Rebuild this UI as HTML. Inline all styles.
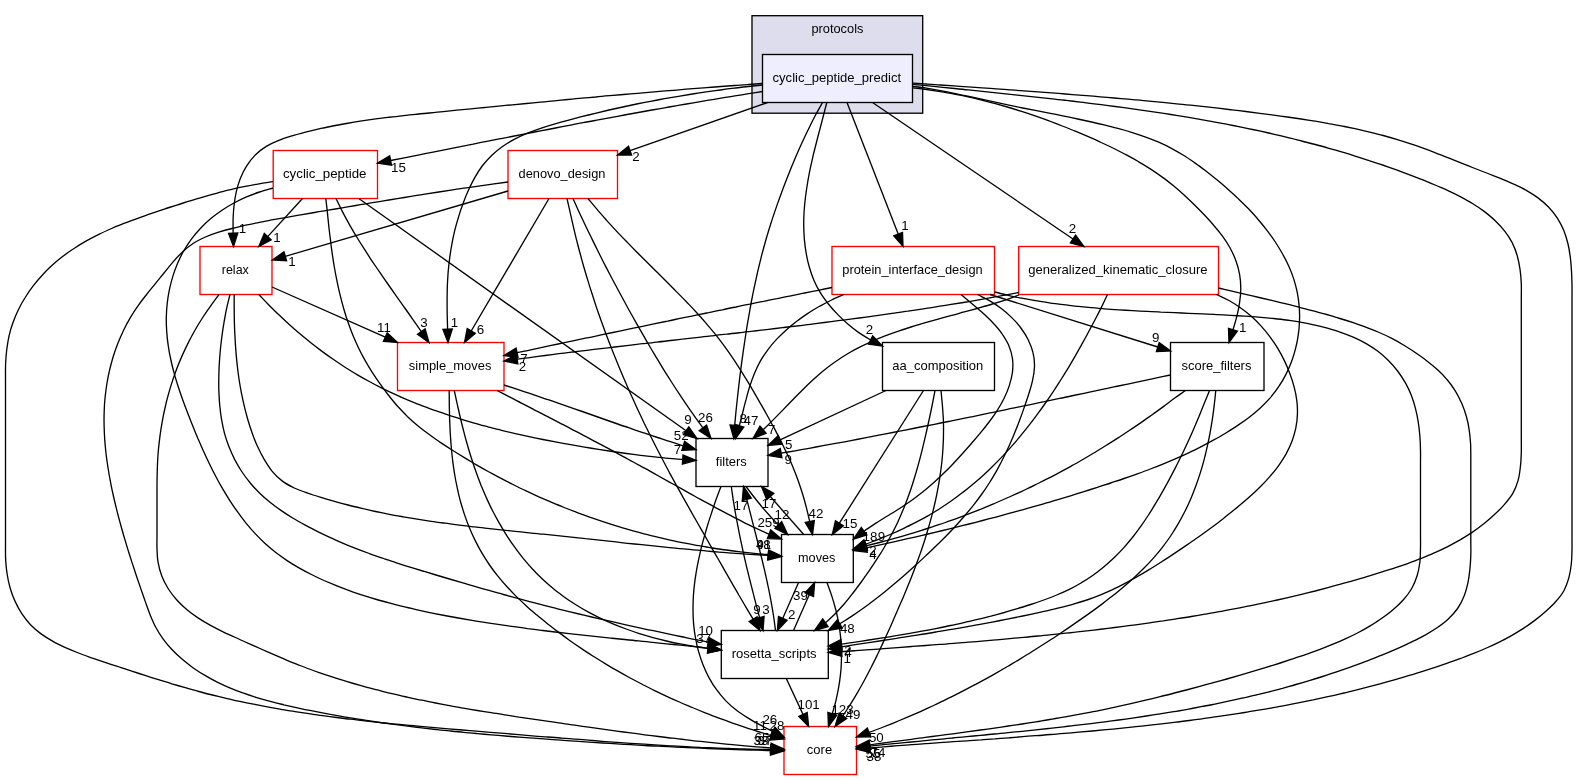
<!DOCTYPE html>
<html><head><meta charset="utf-8"><title>protocols/cyclic_peptide_predict</title>
<style>html,body{margin:0;padding:0;background:#fff}svg{display:block;will-change:transform}text{font-family:"Liberation Sans",Arial,Helvetica,sans-serif;font-size:13.33px;fill:#000;text-anchor:middle}.e{fill:none;stroke:#000;stroke-width:1.33}.a{fill:#000;stroke:#000;stroke-width:1.33}.n{stroke-width:1.33}</style></head><body>
<svg width="1577" height="780" viewBox="0 0 1577 780">
<rect width="1577" height="780" fill="#fff"/>
<rect class="n" x="752.0" y="15.7" width="170.7" height="97.5" fill="#ddddee" stroke="#000"/>
<text x="837.4" y="33.3" textLength="52" lengthAdjust="spacingAndGlyphs">protocols</text>
<rect class="n" x="762.5" y="54.5" width="150.0" height="48.0" fill="#eeeeff" stroke="#000000"/>
<text x="836.8" y="81.5" textLength="128.5" lengthAdjust="spacingAndGlyphs">cyclic_peptide_predict</text>
<rect class="n" x="273.2" y="150.5" width="104.3" height="48.0" fill="#ffffff" stroke="#ff0000"/>
<text x="324.7" y="177.5" textLength="83.5" lengthAdjust="spacingAndGlyphs">cyclic_peptide</text>
<rect class="n" x="508.0" y="150.5" width="109.5" height="48.0" fill="#ffffff" stroke="#ff0000"/>
<text x="562.0" y="177.5" textLength="86.8" lengthAdjust="spacingAndGlyphs">denovo_design</text>
<rect class="n" x="200.0" y="246.5" width="72.0" height="48.0" fill="#ffffff" stroke="#ff0000"/>
<text x="235.3" y="273.5" textLength="27.0" lengthAdjust="spacingAndGlyphs">relax</text>
<rect class="n" x="832.0" y="246.5" width="162.5" height="48.0" fill="#ffffff" stroke="#ff0000"/>
<text x="912.5" y="273.5" textLength="140.5" lengthAdjust="spacingAndGlyphs">protein_interface_design</text>
<rect class="n" x="1018.7" y="246.5" width="199.8" height="48.0" fill="#ffffff" stroke="#ff0000"/>
<text x="1117.9" y="273.5" textLength="179.5" lengthAdjust="spacingAndGlyphs">generalized_kinematic_closure</text>
<rect class="n" x="397.5" y="342.5" width="106.5" height="48.0" fill="#ffffff" stroke="#ff0000"/>
<text x="450.1" y="369.5" textLength="82.5" lengthAdjust="spacingAndGlyphs">simple_moves</text>
<rect class="n" x="882.5" y="342.5" width="112.0" height="48.0" fill="#ffffff" stroke="#000000"/>
<text x="937.8" y="369.5" textLength="91.0" lengthAdjust="spacingAndGlyphs">aa_composition</text>
<rect class="n" x="1170.5" y="342.5" width="93.5" height="48.0" fill="#ffffff" stroke="#000000"/>
<text x="1216.5" y="369.5" textLength="69.8" lengthAdjust="spacingAndGlyphs">score_filters</text>
<rect class="n" x="696.0" y="438.5" width="72.0" height="48.0" fill="#ffffff" stroke="#000000"/>
<text x="731.3" y="465.5" textLength="31.0" lengthAdjust="spacingAndGlyphs">filters</text>
<rect class="n" x="781.5" y="534.5" width="71.8" height="48.0" fill="#ffffff" stroke="#000000"/>
<text x="816.7" y="561.5" textLength="37.4" lengthAdjust="spacingAndGlyphs">moves</text>
<rect class="n" x="721.3" y="630.5" width="107.0" height="48.0" fill="#ffffff" stroke="#000000"/>
<text x="774.1" y="657.5" textLength="84.9" lengthAdjust="spacingAndGlyphs">rosetta_scripts</text>
<rect class="n" x="784.0" y="726.5" width="72.5" height="48.0" fill="#ffffff" stroke="#ff0000"/>
<text x="819.5" y="753.5" textLength="25.3" lengthAdjust="spacingAndGlyphs">core</text>
<path class="e" d="M762.5,91.5C757.9,92.2 753.3,93.0 748.7,93.7C744.1,94.4 739.4,95.2 734.8,95.9C730.2,96.6 725.6,97.4 721.0,98.2C716.4,98.9 711.8,99.7 707.2,100.4C702.6,101.2 698.0,102.0 693.4,102.8C688.8,103.6 684.2,104.4 679.6,105.2C675.0,105.9 670.4,106.8 665.8,107.6C661.2,108.4 656.6,109.2 652.0,110.0C647.4,110.8 642.8,111.7 638.2,112.5C633.6,113.3 629.0,114.2 624.4,115.0C619.8,115.9 615.2,116.7 610.6,117.6C606.0,118.4 601.4,119.3 596.8,120.1C592.2,121.0 587.7,121.9 583.1,122.7C578.5,123.6 573.9,124.5 569.3,125.3C564.7,126.2 560.1,127.1 555.5,128.0C551.0,128.9 546.4,129.8 541.8,130.6C537.2,131.5 532.6,132.4 528.0,133.3C523.5,134.2 518.9,135.1 514.3,136.0C509.7,136.9 505.1,137.8 500.5,138.7C496.0,139.6 491.4,140.5 486.8,141.4C482.2,142.3 477.6,143.2 473.1,144.2C468.5,145.1 463.9,146.0 459.3,146.9C454.7,147.8 450.1,148.7 445.6,149.6C441.0,150.5 436.4,151.4 431.8,152.3C427.2,153.2 422.7,154.2 418.1,155.1C413.5,156.0 408.9,156.9 404.3,157.8C399.8,158.7 395.2,159.6 390.6,160.5"/><polygon class="a" points="389.7,155.9 377.5,163.0 391.5,165.1"/>
<path class="e" d="M767.5,102.5L630.1,150.6"/><polygon class="a" points="628.5,146.2 617.5,155.0 631.6,155.0"/>
<path class="e" d="M762.5,83.5C757.9,83.8 753.2,84.2 748.6,84.5C744.0,84.8 739.3,85.1 734.7,85.5C730.1,85.8 725.4,86.2 720.8,86.5C716.2,86.8 711.5,87.2 706.9,87.6C702.3,87.9 697.6,88.3 693.0,88.6C688.4,89.0 683.7,89.4 679.1,89.8C674.5,90.1 669.8,90.5 665.2,90.9C660.6,91.3 656.0,91.7 651.3,92.1C646.7,92.5 642.1,92.9 637.4,93.3C632.8,93.7 628.2,94.1 623.6,94.5C618.9,94.9 614.3,95.3 609.7,95.7C605.0,96.1 600.4,96.5 595.8,97.0C591.2,97.4 586.5,97.8 581.9,98.2C577.3,98.7 572.7,99.1 568.0,99.5C563.4,99.9 558.8,100.4 554.2,100.8C549.5,101.3 544.9,101.7 540.3,102.1C535.7,102.6 531.0,103.0 526.4,103.5C521.8,103.9 517.2,104.4 512.5,104.8C507.9,105.2 503.3,105.7 498.7,106.1C494.0,106.6 489.4,107.0 484.8,107.5C480.2,108.0 475.5,108.4 470.9,108.9C466.3,109.3 461.7,109.8 457.0,110.2C452.4,110.7 447.8,111.1 443.2,111.6C438.5,112.0 433.9,112.5 429.3,113.0C424.7,113.4 420.1,113.9 415.4,114.4C410.8,114.8 406.2,115.3 401.6,115.8C397.0,116.4 392.3,116.9 387.7,117.4C383.1,118.0 378.5,118.6 373.9,119.2C369.3,119.9 364.7,120.5 360.1,121.2C355.5,121.9 350.9,122.7 346.4,123.5C341.8,124.3 337.2,125.1 332.7,126.0C328.1,126.9 323.6,127.9 319.0,128.9C314.5,130.0 310.0,131.1 305.5,132.2C301.0,133.4 296.5,134.6 292.0,135.9C287.6,137.3 283.1,138.6 278.8,140.4C274.5,142.1 270.2,144.0 266.3,146.4C262.4,148.8 258.6,151.7 255.3,154.9C252.1,158.2 249.2,162.0 246.7,165.9C244.2,169.7 242.2,174.0 240.4,178.3C238.7,182.6 237.4,187.1 236.3,191.6C235.3,196.1 234.6,200.7 234.1,205.3C233.5,209.9 233.3,214.6 233.1,219.2C233.0,223.9 233.1,228.5 233.1,233.2"/><polygon class="a" points="228.5,233.3 233.5,246.5 237.8,233.0"/>
<path class="e" d="M762.5,85.0C757.8,85.5 753.1,86.0 748.4,86.5C743.7,87.0 739.1,87.6 734.4,88.2C729.7,88.7 725.0,89.3 720.4,90.0C715.7,90.6 711.0,91.3 706.3,91.9C701.7,92.6 697.0,93.3 692.4,94.0C687.7,94.8 683.0,95.5 678.4,96.3C673.7,97.1 669.1,97.9 664.5,98.7C659.8,99.6 655.2,100.4 650.5,101.3C645.9,102.2 641.3,103.1 636.7,104.0C632.0,105.0 627.4,106.0 622.8,107.0C618.2,108.0 613.6,109.0 609.0,110.0C604.4,111.1 599.8,112.2 595.3,113.3C590.7,114.4 586.1,115.6 581.5,116.7C577.0,117.9 572.4,119.1 567.8,120.3C563.3,121.6 558.7,122.8 554.2,124.1C549.7,125.4 545.2,126.8 540.7,128.3C536.2,129.8 531.8,131.4 527.4,133.2C523.1,135.0 518.8,137.0 514.6,139.2C510.5,141.4 506.4,143.8 502.5,146.5C498.7,149.2 495.0,152.2 491.6,155.4C488.2,158.7 485.1,162.3 482.2,166.0C479.4,169.8 476.9,173.8 474.6,177.9C472.3,182.0 470.2,186.3 468.3,190.6C466.3,194.9 464.6,199.3 463.0,203.7C461.3,208.1 459.8,212.6 458.5,217.1C457.1,221.6 455.8,226.2 454.7,230.7C453.6,235.3 452.6,239.9 451.8,244.6C450.9,249.2 450.2,253.9 449.6,258.6C449.0,263.2 448.5,267.9 448.1,272.6C447.8,277.3 447.5,282.0 447.3,286.7C447.2,291.5 447.1,296.2 447.1,300.9C447.1,305.6 447.1,310.3 447.2,315.0C447.3,319.7 447.5,324.5 447.6,329.2"/><polygon class="a" points="442.9,329.3 448.0,342.5 452.3,329.0"/>
<path class="e" d="M822.5,102.5C820.2,106.6 817.9,110.6 815.7,114.8C813.5,118.9 811.4,123.1 809.4,127.3C807.3,131.5 805.3,135.7 803.3,140.0C801.3,144.2 799.4,148.5 797.5,152.8C795.7,157.1 793.8,161.4 792.0,165.7C790.3,170.0 788.5,174.4 786.8,178.7C785.1,183.1 783.4,187.5 781.8,191.9C780.2,196.3 778.6,200.7 777.0,205.1C775.5,209.5 774.0,213.9 772.5,218.4C771.1,222.8 769.6,227.3 768.3,231.8C766.9,236.3 765.6,240.7 764.4,245.3C763.1,249.8 761.9,254.3 760.8,258.8C759.6,263.4 758.6,267.9 757.5,272.5C756.5,277.1 755.5,281.6 754.5,286.2C753.5,290.8 752.6,295.4 751.7,300.0C750.8,304.6 750.0,309.2 749.2,313.8C748.4,318.4 747.6,323.0 746.8,327.6C746.1,332.3 745.4,336.9 744.7,341.5C744.0,346.2 743.3,350.8 742.7,355.4C742.0,360.1 741.4,364.7 740.8,369.4C740.2,374.0 739.6,378.6 739.1,383.3C738.5,387.9 738.0,392.6 737.5,397.3C737.0,401.9 736.5,406.6 736.0,411.2C735.6,415.9 735.1,420.5 734.7,425.2"/><polygon class="a" points="730.0,424.9 733.8,438.5 739.3,425.5"/>
<path class="e" d="M826.8,102.5C825.6,107.0 824.5,111.5 823.3,116.0C822.2,120.5 821.0,125.0 819.8,129.5C818.6,134.0 817.4,138.5 816.3,143.0C815.1,147.6 814.0,152.1 812.9,156.6C811.9,161.1 810.9,165.7 809.9,170.2C809.0,174.8 808.1,179.4 807.4,184.0C806.6,188.6 805.9,193.2 805.4,197.8C804.8,202.4 804.4,207.0 804.1,211.7C803.8,216.3 803.7,221.0 803.7,225.6C803.8,230.3 804.0,235.0 804.4,239.6C804.8,244.2 805.4,248.8 806.2,253.4C807.0,258.0 808.0,262.6 809.3,267.0C810.6,271.5 812.0,275.9 813.9,280.2C815.7,284.5 817.9,288.6 820.3,292.6C822.7,296.6 825.5,300.3 828.4,304.0C831.3,307.6 834.4,311.1 837.6,314.4C840.9,317.8 844.3,321.0 847.8,324.0C851.3,327.0 855.0,329.9 858.8,332.6C862.6,335.2 866.6,337.5 870.6,340.0"/><polygon class="a" points="868.5,344.2 882.5,346.0 872.7,335.9"/>
<path class="e" d="M847.0,102.5L898.2,234.1"/><polygon class="a" points="893.8,235.8 903.0,246.5 902.5,232.4"/>
<path class="e" d="M872.5,102.5L1073.0,239.0"/><polygon class="a" points="1070.4,242.9 1084.0,246.5 1075.6,235.1"/>
<path class="e" d="M912.5,87.8C917.2,88.4 921.8,88.9 926.5,89.5C931.1,90.2 935.8,90.9 940.4,91.6C945.0,92.4 949.7,93.2 954.3,94.1C958.9,94.9 963.5,95.9 968.1,96.9C972.7,97.9 977.2,99.0 981.8,100.1C986.4,101.2 990.9,102.4 995.4,103.6C1000.0,104.9 1004.5,106.2 1009.0,107.5C1013.5,108.9 1018.0,110.3 1022.4,111.7C1026.9,113.1 1031.4,114.6 1035.8,116.2C1040.2,117.7 1044.7,119.3 1049.1,120.9C1053.5,122.6 1057.9,124.2 1062.2,126.0C1066.6,127.7 1071.0,129.4 1075.3,131.2C1079.6,133.0 1084.0,134.9 1088.3,136.7C1092.6,138.6 1096.9,140.5 1101.1,142.5C1105.4,144.4 1109.6,146.4 1113.9,148.5C1118.1,150.6 1122.3,152.7 1126.4,154.9C1130.6,157.1 1134.7,159.4 1138.7,161.8C1142.8,164.1 1146.8,166.6 1150.7,169.1C1154.6,171.7 1158.5,174.4 1162.3,177.1C1166.1,179.9 1169.8,182.8 1173.5,185.7C1177.1,188.7 1180.7,191.8 1184.1,194.9C1187.6,198.1 1191.0,201.4 1194.3,204.7C1197.7,208.0 1200.9,211.3 1204.2,214.8C1207.4,218.2 1210.6,221.6 1213.6,225.2C1216.7,228.7 1219.7,232.4 1222.5,236.2C1225.2,240.0 1227.8,243.9 1230.1,248.0C1232.3,252.1 1234.4,256.4 1235.9,260.8C1237.5,265.2 1238.8,269.8 1239.6,274.4C1240.4,279.0 1240.8,283.7 1240.8,288.4C1240.8,293.1 1240.3,297.8 1239.6,302.4C1239.0,307.1 1238.0,311.7 1236.9,316.2C1235.8,320.8 1234.3,325.3 1233.0,329.8"/><polygon class="a" points="1228.5,328.4 1229.0,342.5 1237.4,331.2"/>
<path class="e" d="M912.5,86.3C917.1,86.9 921.8,87.5 926.4,88.2C931.0,88.9 935.7,89.7 940.3,90.6C944.9,91.4 949.5,92.3 954.1,93.3C958.6,94.2 963.2,95.2 967.8,96.2C972.4,97.2 976.9,98.2 981.5,99.2C986.1,100.2 990.7,101.2 995.2,102.2C999.8,103.2 1004.4,104.2 1009.0,105.2C1013.6,106.1 1018.1,107.0 1022.7,108.0C1027.3,108.9 1031.9,109.8 1036.5,110.7C1041.1,111.6 1045.7,112.5 1050.3,113.4C1054.9,114.3 1059.5,115.2 1064.1,116.2C1068.7,117.1 1073.2,118.0 1077.8,119.0C1082.4,120.0 1087.0,121.0 1091.6,122.0C1096.1,123.0 1100.7,124.1 1105.2,125.2C1109.8,126.3 1114.3,127.5 1118.8,128.7C1123.4,129.9 1127.9,131.2 1132.3,132.6C1136.8,134.0 1141.3,135.5 1145.7,137.1C1150.1,138.7 1154.4,140.4 1158.7,142.2C1163.0,144.1 1167.2,146.1 1171.4,148.3C1175.5,150.5 1179.6,152.9 1183.5,155.3C1187.5,157.8 1191.4,160.5 1195.2,163.1C1199.0,165.8 1202.8,168.7 1206.5,171.5C1210.2,174.4 1213.9,177.3 1217.5,180.3C1221.1,183.2 1224.7,186.3 1228.2,189.4C1231.7,192.5 1235.2,195.6 1238.5,198.9C1241.9,202.1 1245.2,205.4 1248.5,208.8C1251.7,212.2 1254.9,215.6 1257.9,219.2C1261.0,222.7 1263.9,226.4 1266.8,230.1C1269.6,233.8 1272.4,237.6 1275.0,241.5C1277.5,245.4 1280.0,249.4 1282.3,253.5C1284.6,257.5 1286.8,261.7 1288.7,266.0C1290.6,270.2 1292.3,274.6 1293.8,279.1C1295.2,283.5 1296.4,288.1 1297.3,292.7C1298.2,297.2 1298.8,301.9 1299.2,306.6C1299.6,311.2 1299.7,315.9 1299.5,320.6C1299.4,325.3 1299.0,330.0 1298.3,334.6C1297.7,339.2 1296.8,343.8 1295.6,348.4C1294.5,352.9 1293.1,357.4 1291.5,361.8C1289.8,366.2 1288.0,370.5 1285.8,374.6C1283.7,378.8 1281.3,382.9 1278.7,386.7C1276.1,390.6 1273.2,394.3 1270.2,397.9C1267.1,401.4 1263.8,404.7 1260.3,407.9C1256.9,411.1 1253.3,414.0 1249.6,416.9C1245.9,419.8 1242.0,422.5 1238.1,425.1C1234.3,427.7 1230.3,430.2 1226.3,432.7C1222.3,435.1 1218.3,437.5 1214.2,439.7C1210.1,442.0 1206.0,444.2 1201.8,446.4C1197.6,448.5 1193.4,450.6 1189.2,452.6C1184.9,454.6 1180.7,456.5 1176.4,458.4C1172.1,460.3 1167.8,462.1 1163.4,463.8C1159.1,465.6 1154.8,467.3 1150.4,469.0C1146.0,470.7 1141.6,472.3 1137.2,473.9C1132.8,475.5 1128.4,477.0 1124.0,478.5C1119.5,480.1 1115.1,481.5 1110.6,483.0C1106.2,484.5 1101.7,485.9 1097.3,487.4C1092.8,488.8 1088.4,490.2 1083.9,491.6C1079.4,493.0 1075.0,494.4 1070.5,495.8C1066.0,497.1 1061.5,498.5 1057.0,499.8C1052.5,501.2 1048.0,502.5 1043.6,503.8C1039.1,505.1 1034.6,506.4 1030.0,507.7C1025.5,508.9 1021.0,510.2 1016.5,511.4C1012.0,512.7 1007.5,513.9 1003.0,515.1C998.4,516.4 993.9,517.6 989.4,518.7C984.9,519.9 980.3,521.1 975.8,522.3C971.3,523.4 966.7,524.6 962.2,525.7C957.6,526.8 953.1,528.0 948.5,529.1C944.0,530.2 939.4,531.3 934.9,532.4C930.3,533.5 925.8,534.5 921.2,535.6C916.6,536.7 912.1,537.7 907.5,538.7C902.9,539.8 898.4,540.8 893.8,541.8C889.2,542.8 884.7,543.8 880.1,544.8C875.5,545.8 870.9,546.8 866.3,547.8"/><polygon class="a" points="865.4,543.2 853.3,550.5 867.3,552.3"/>
<path class="e" d="M912.5,84.2C917.2,84.7 921.8,85.2 926.5,85.6C931.2,86.1 935.8,86.6 940.5,87.1C945.1,87.6 949.8,88.0 954.5,88.5C959.1,89.0 963.8,89.5 968.5,89.9C973.1,90.4 977.8,90.9 982.4,91.4C987.1,91.9 991.8,92.3 996.4,92.8C1001.1,93.3 1005.8,93.8 1010.4,94.3C1015.1,94.8 1019.7,95.3 1024.4,95.8C1029.1,96.3 1033.7,96.8 1038.4,97.3C1043.0,97.8 1047.7,98.3 1052.4,98.8C1057.0,99.4 1061.7,99.9 1066.3,100.4C1071.0,101.0 1075.6,101.5 1080.3,102.1C1084.9,102.6 1089.6,103.2 1094.2,103.8C1098.9,104.4 1103.5,105.0 1108.2,105.6C1112.8,106.2 1117.5,106.8 1122.1,107.4C1126.8,108.0 1131.4,108.7 1136.1,109.3C1140.7,110.0 1145.3,110.6 1150.0,111.3C1154.6,112.0 1159.3,112.7 1163.9,113.4C1168.5,114.1 1173.2,114.9 1177.8,115.6C1182.4,116.4 1187.0,117.1 1191.7,117.9C1196.3,118.7 1200.9,119.5 1205.5,120.3C1210.1,121.1 1214.7,122.0 1219.3,122.9C1223.9,123.7 1228.5,124.6 1233.1,125.5C1237.7,126.4 1242.3,127.4 1246.9,128.3C1251.5,129.3 1256.1,130.2 1260.7,131.2C1265.3,132.2 1269.8,133.3 1274.4,134.3C1279.0,135.4 1283.5,136.5 1288.1,137.6C1292.6,138.7 1297.2,139.8 1301.7,141.0C1306.3,142.1 1310.8,143.3 1315.3,144.5C1319.9,145.7 1324.4,147.0 1328.9,148.3C1333.4,149.5 1337.9,150.8 1342.4,152.2C1346.9,153.5 1351.4,154.9 1355.8,156.3C1360.3,157.7 1364.8,159.1 1369.2,160.6C1373.7,162.0 1378.1,163.5 1382.6,165.0C1387.0,166.6 1391.4,168.1 1395.8,169.7C1400.2,171.3 1404.6,173.0 1409.0,174.6C1413.4,176.3 1417.8,178.0 1422.1,179.7C1426.5,181.5 1430.8,183.2 1435.1,185.0C1439.4,186.9 1443.8,188.7 1448.0,190.6C1452.3,192.6 1456.5,194.6 1460.7,196.8C1464.8,199.0 1468.9,201.2 1472.9,203.7C1476.9,206.2 1480.8,208.8 1484.5,211.6C1488.2,214.5 1491.9,217.5 1495.2,220.7C1498.6,224.0 1501.9,227.4 1504.7,231.1C1507.6,234.8 1510.2,238.7 1512.3,242.9C1514.4,247.0 1516.0,251.5 1517.3,256.0C1518.6,260.5 1519.4,265.2 1520.1,269.8C1520.8,274.4 1521.1,279.1 1521.3,283.8C1521.5,288.5 1521.3,293.2 1521.3,297.8C1521.3,302.5 1521.3,307.2 1521.3,311.9C1521.3,316.6 1521.3,321.3 1521.3,326.0C1521.3,330.7 1521.3,335.3 1521.3,340.0C1521.3,344.7 1521.3,349.4 1521.3,354.1C1521.3,358.8 1521.3,363.5 1521.3,368.2C1521.3,372.8 1521.3,377.5 1521.3,382.2C1521.3,386.9 1521.3,391.6 1521.3,396.3C1521.3,401.0 1521.3,405.7 1521.3,410.3C1521.3,415.0 1521.3,419.7 1521.3,424.4C1521.3,429.1 1521.3,433.8 1521.3,438.5C1521.3,443.2 1521.4,447.8 1521.3,452.5C1521.1,457.2 1521.0,461.9 1520.4,466.6C1519.9,471.2 1519.4,475.9 1518.1,480.4C1516.8,484.9 1515.1,489.4 1512.8,493.4C1510.5,497.4 1507.4,501.0 1504.3,504.6C1501.3,508.1 1497.9,511.4 1494.5,514.6C1491.1,517.8 1487.5,520.9 1483.8,523.8C1480.2,526.7 1476.4,529.5 1472.5,532.1C1468.6,534.7 1464.6,537.2 1460.6,539.6C1456.5,541.9 1452.4,544.1 1448.2,546.3C1444.1,548.4 1439.8,550.4 1435.5,552.3C1431.3,554.2 1426.9,556.0 1422.6,557.8C1418.2,559.5 1413.8,561.2 1409.4,562.8C1405.0,564.4 1400.6,565.9 1396.2,567.4C1391.7,568.9 1387.2,570.3 1382.8,571.7C1378.3,573.1 1373.8,574.5 1369.4,575.9C1364.9,577.3 1360.4,578.6 1355.9,579.9C1351.4,581.2 1346.9,582.5 1342.3,583.7C1337.8,585.0 1333.3,586.2 1328.8,587.4C1324.2,588.6 1319.7,589.8 1315.2,591.0C1310.6,592.1 1306.1,593.2 1301.5,594.3C1297.0,595.4 1292.4,596.5 1287.8,597.6C1283.3,598.6 1278.7,599.7 1274.1,600.7C1269.5,601.7 1265.0,602.7 1260.4,603.6C1255.8,604.6 1251.2,605.5 1246.6,606.4C1242.0,607.4 1237.4,608.3 1232.8,609.1C1228.2,610.0 1223.6,610.9 1219.0,611.7C1214.4,612.6 1209.7,613.4 1205.1,614.2C1200.5,615.0 1195.9,615.7 1191.3,616.5C1186.6,617.3 1182.0,618.0 1177.4,618.7C1172.7,619.5 1168.1,620.2 1163.5,620.9C1158.8,621.5 1154.2,622.2 1149.6,622.9C1144.9,623.5 1140.3,624.2 1135.6,624.8C1131.0,625.4 1126.3,626.0 1121.7,626.6C1117.0,627.2 1112.4,627.8 1107.7,628.4C1103.1,629.0 1098.4,629.5 1093.8,630.1C1089.1,630.6 1084.5,631.1 1079.8,631.6C1075.1,632.2 1070.5,632.7 1065.8,633.2C1061.2,633.7 1056.5,634.1 1051.8,634.6C1047.2,635.1 1042.5,635.6 1037.8,636.0C1033.2,636.5 1028.5,636.9 1023.8,637.3C1019.2,637.8 1014.5,638.2 1009.8,638.6C1005.2,639.0 1000.5,639.5 995.8,639.9C991.2,640.3 986.5,640.7 981.8,641.1C977.1,641.4 972.5,641.8 967.8,642.2C963.1,642.6 958.5,643.0 953.8,643.3C949.1,643.7 944.4,644.1 939.8,644.4C935.1,644.8 930.4,645.1 925.7,645.5C921.1,645.8 916.4,646.2 911.7,646.5C907.1,646.9 902.4,647.2 897.7,647.6C893.0,647.9 888.4,648.3 883.7,648.6C879.0,649.0 874.3,649.3 869.7,649.6C865.0,650.0 860.3,650.3 855.6,650.7C851.0,651.0 846.3,651.3 841.6,651.7"/><polygon class="a" points="841.3,647.0 828.3,652.5 841.9,656.4"/>
<path class="e" d="M912.5,83.0C917.1,83.3 921.8,83.6 926.4,84.0C931.0,84.3 935.7,84.6 940.3,85.0C945.0,85.3 949.6,85.6 954.2,85.9C958.9,86.3 963.5,86.6 968.1,86.9C972.8,87.2 977.4,87.6 982.1,87.9C986.7,88.2 991.3,88.5 996.0,88.9C1000.6,89.2 1005.2,89.5 1009.9,89.9C1014.5,90.2 1019.2,90.5 1023.8,90.9C1028.4,91.2 1033.1,91.6 1037.7,91.9C1042.3,92.2 1047.0,92.6 1051.6,92.9C1056.2,93.3 1060.9,93.6 1065.5,94.0C1070.1,94.4 1074.8,94.7 1079.4,95.1C1084.0,95.5 1088.7,95.8 1093.3,96.2C1097.9,96.6 1102.6,97.0 1107.2,97.4C1111.8,97.8 1116.5,98.2 1121.1,98.6C1125.7,99.0 1130.4,99.4 1135.0,99.8C1139.6,100.2 1144.3,100.6 1148.9,101.1C1153.5,101.5 1158.1,102.0 1162.8,102.4C1167.4,102.9 1172.0,103.3 1176.6,103.8C1181.3,104.2 1185.9,104.7 1190.5,105.2C1195.1,105.7 1199.8,106.2 1204.4,106.7C1209.0,107.2 1213.6,107.7 1218.2,108.2C1222.9,108.8 1227.5,109.3 1232.1,109.9C1236.7,110.4 1241.3,111.0 1245.9,111.5C1250.6,112.1 1255.2,112.7 1259.8,113.3C1264.4,113.9 1269.0,114.5 1273.6,115.1C1278.2,115.7 1282.8,116.4 1287.4,117.0C1292.0,117.7 1296.6,118.3 1301.2,119.0C1305.8,119.7 1310.4,120.5 1315.0,121.2C1319.6,122.0 1324.2,122.7 1328.7,123.6C1333.3,124.4 1337.9,125.2 1342.4,126.1C1347.0,127.0 1351.6,128.0 1356.1,128.9C1360.6,129.9 1365.2,131.0 1369.7,132.1C1374.2,133.2 1378.7,134.3 1383.2,135.5C1387.7,136.7 1392.2,138.0 1396.6,139.3C1401.1,140.7 1405.5,142.1 1409.9,143.6C1414.3,145.0 1418.7,146.6 1423.1,148.2C1427.4,149.7 1431.8,151.4 1436.1,153.1C1440.5,154.7 1444.8,156.4 1449.1,158.1C1453.4,159.9 1457.7,161.6 1462.1,163.3C1466.4,165.0 1470.7,166.8 1475.0,168.5C1479.3,170.2 1483.7,171.9 1488.0,173.5C1492.3,175.2 1496.7,176.9 1501.0,178.6C1505.3,180.4 1509.6,182.1 1513.8,184.1C1518.1,186.0 1522.3,188.0 1526.3,190.3C1530.3,192.6 1534.3,195.1 1538.0,197.9C1541.7,200.7 1545.3,203.7 1548.5,207.0C1551.7,210.4 1554.7,214.1 1557.2,217.9C1559.7,221.8 1561.9,226.0 1563.7,230.2C1565.5,234.5 1566.8,239.0 1567.9,243.5C1569.0,248.0 1569.7,252.6 1570.3,257.2C1570.9,261.8 1571.2,266.5 1571.5,271.1C1571.8,275.8 1571.9,280.4 1572.0,285.1C1572.1,289.7 1572.0,294.4 1572.0,299.0C1572.0,303.7 1572.0,308.3 1572.0,313.0C1572.0,317.6 1572.0,322.3 1572.0,326.9C1572.0,331.6 1572.0,336.2 1572.0,340.8C1572.0,345.5 1572.0,350.1 1572.0,354.8C1572.0,359.4 1572.0,364.1 1572.0,368.7C1572.0,373.4 1572.0,378.0 1572.0,382.7C1572.0,387.3 1572.0,392.0 1572.0,396.6C1572.0,401.3 1572.0,405.9 1572.0,410.6C1572.0,415.2 1572.0,419.9 1572.0,424.5C1572.0,429.2 1572.0,433.8 1572.0,438.5C1572.0,443.1 1572.0,447.8 1572.0,452.4C1572.0,457.1 1572.0,461.7 1572.0,466.4C1572.0,471.0 1572.0,475.7 1572.0,480.3C1572.0,485.0 1572.0,489.6 1572.0,494.3C1572.0,498.9 1572.0,503.5 1572.0,508.2C1572.0,512.8 1572.0,517.5 1572.0,522.1C1572.0,526.8 1572.0,531.4 1572.0,536.1C1572.0,540.7 1572.1,545.4 1572.0,550.0C1571.9,554.7 1571.8,559.3 1571.3,564.0C1570.8,568.6 1570.1,573.2 1568.9,577.7C1567.7,582.1 1566.1,586.6 1563.9,590.7C1561.7,594.7 1558.7,598.3 1555.6,601.8C1552.6,605.3 1549.1,608.4 1545.6,611.5C1542.2,614.6 1538.5,617.6 1534.8,620.4C1531.1,623.2 1527.3,625.8 1523.4,628.4C1519.5,630.9 1515.5,633.3 1511.5,635.6C1507.5,637.9 1503.3,640.1 1499.2,642.1C1495.0,644.2 1490.8,646.2 1486.5,648.0C1482.3,649.9 1478.0,651.7 1473.7,653.4C1469.4,655.2 1465.0,656.8 1460.7,658.4C1456.3,660.0 1451.9,661.6 1447.5,663.1C1443.1,664.6 1438.7,666.1 1434.3,667.6C1429.9,669.0 1425.5,670.5 1421.0,671.8C1416.6,673.2 1412.2,674.6 1407.7,675.9C1403.3,677.3 1398.8,678.6 1394.3,679.9C1389.9,681.1 1385.4,682.4 1380.9,683.6C1376.4,684.8 1371.9,686.0 1367.4,687.2C1362.9,688.3 1358.4,689.5 1353.9,690.6C1349.4,691.7 1344.9,692.8 1340.3,693.8C1335.8,694.9 1331.3,695.9 1326.7,696.9C1322.2,697.9 1317.6,698.9 1313.1,699.9C1308.5,700.8 1304.0,701.7 1299.4,702.7C1294.9,703.6 1290.3,704.5 1285.7,705.3C1281.2,706.2 1276.6,707.0 1272.0,707.8C1267.5,708.7 1262.9,709.5 1258.3,710.2C1253.7,711.0 1249.1,711.8 1244.5,712.5C1239.9,713.2 1235.3,714.0 1230.7,714.7C1226.2,715.4 1221.6,716.0 1217.0,716.7C1212.4,717.4 1207.7,718.0 1203.1,718.6C1198.5,719.3 1193.9,719.9 1189.3,720.5C1184.7,721.1 1180.1,721.7 1175.5,722.2C1170.9,722.8 1166.3,723.3 1161.6,723.9C1157.0,724.4 1152.4,724.9 1147.8,725.4C1143.2,726.0 1138.5,726.4 1133.9,726.9C1129.3,727.4 1124.7,727.9 1120.0,728.4C1115.4,728.8 1110.8,729.3 1106.2,729.7C1101.5,730.1 1096.9,730.6 1092.3,731.0C1087.6,731.4 1083.0,731.8 1078.4,732.2C1073.8,732.6 1069.1,733.0 1064.5,733.4C1059.9,733.8 1055.2,734.2 1050.6,734.5C1046.0,734.9 1041.3,735.3 1036.7,735.6C1032.0,736.0 1027.4,736.4 1022.8,736.7C1018.1,737.1 1013.5,737.4 1008.9,737.8C1004.2,738.1 999.6,738.4 995.0,738.8C990.3,739.1 985.7,739.4 981.1,739.8C976.4,740.1 971.8,740.4 967.1,740.8C962.5,741.1 957.9,741.4 953.2,741.7C948.6,742.1 944.0,742.4 939.3,742.7C934.7,743.1 930.0,743.4 925.4,743.7C920.8,744.1 916.1,744.4 911.5,744.7C906.9,745.1 902.2,745.4 897.6,745.7C893.0,746.1 888.3,746.4 883.7,746.8C879.1,747.1 874.4,747.5 869.8,747.9"/><polygon class="a" points="869.4,743.2 856.5,749.0 870.2,752.5"/>
<path class="e" d="M302.5,198.5L267.7,236.6"/><polygon class="a" points="264.3,233.5 258.8,246.5 271.2,239.8"/>
<path class="e" d="M336.0,198.5C338.1,202.8 340.1,207.2 342.3,211.4C344.5,215.7 346.8,219.9 349.2,224.1C351.5,228.3 354.0,232.4 356.4,236.5C358.9,240.6 361.5,244.7 364.1,248.7C366.6,252.8 369.3,256.8 371.9,260.8C374.6,264.8 377.3,268.7 380.0,272.7C382.7,276.6 385.5,280.6 388.2,284.5C391.0,288.4 393.7,292.3 396.5,296.3C399.3,300.2 402.1,304.1 404.8,308.0C407.6,311.9 410.4,315.9 413.1,319.8C415.8,323.7 418.6,327.7 421.3,331.6"/><polygon class="a" points="417.5,334.3 429.0,342.5 425.1,328.9"/>
<path class="e" d="M358.8,198.5L686.1,430.8"/><polygon class="a" points="683.4,434.6 697.0,438.5 688.8,427.0"/>
<path class="e" d="M325.8,198.5C326.3,203.1 326.9,207.7 327.4,212.4C327.9,217.0 328.3,221.7 328.8,226.3C329.3,231.0 329.9,235.6 330.5,240.2C331.0,244.9 331.6,249.5 332.3,254.1C333.0,258.8 333.7,263.4 334.5,268.0C335.3,272.6 336.2,277.2 337.1,281.7C338.0,286.3 339.1,290.9 340.2,295.4C341.3,300.0 342.5,304.5 343.8,309.0C345.1,313.4 346.5,317.9 348.0,322.3C349.6,326.7 351.2,331.1 353.0,335.4C354.8,339.7 356.7,344.0 358.7,348.2C360.7,352.4 362.9,356.6 365.2,360.6C367.5,364.7 369.9,368.7 372.4,372.6C375.0,376.6 377.6,380.4 380.3,384.2C383.0,388.1 385.8,391.8 388.7,395.5C391.6,399.1 394.5,402.8 397.6,406.3C400.8,409.7 404.0,413.1 407.3,416.4C410.7,419.6 414.2,422.7 417.8,425.7C421.4,428.7 425.1,431.5 428.9,434.3C432.6,437.1 436.5,439.7 440.3,442.4C444.2,445.0 448.1,447.5 452.1,450.0C456.0,452.5 460.0,455.0 464.0,457.4C468.0,459.9 472.0,462.2 476.0,464.6C480.1,466.9 484.1,469.2 488.2,471.5C492.3,473.7 496.4,476.0 500.6,478.1C504.7,480.3 508.8,482.4 513.0,484.5C517.2,486.6 521.4,488.7 525.6,490.7C529.8,492.7 534.1,494.6 538.3,496.6C542.6,498.5 546.9,500.3 551.2,502.2C555.5,504.0 559.8,505.8 564.1,507.5C568.5,509.3 572.8,510.9 577.2,512.6C581.6,514.2 586.0,515.8 590.4,517.4C594.8,518.9 599.2,520.4 603.7,521.9C608.1,523.4 612.5,524.8 617.0,526.1C621.5,527.5 626.0,528.8 630.5,530.1C635.0,531.4 639.5,532.6 644.0,533.8C648.5,534.9 653.0,536.1 657.6,537.2C662.1,538.2 666.7,539.3 671.3,540.3C675.8,541.3 680.4,542.2 685.0,543.1C689.6,544.0 694.2,544.9 698.8,545.7C703.4,546.5 708.0,547.3 712.6,548.0C717.2,548.7 721.8,549.4 726.4,550.0C731.1,550.7 735.7,551.3 740.4,551.8C745.0,552.4 749.6,552.9 754.3,553.3C758.9,553.8 763.6,554.2 768.2,554.6"/><polygon class="a" points="767.8,559.2 781.5,556.0 768.7,550.0"/>
<path class="e" d="M273.0,188.0C268.5,189.3 264.0,190.5 259.6,192.0C255.2,193.4 250.8,195.1 246.5,196.9C242.3,198.7 238.0,200.8 234.0,203.0C229.9,205.2 225.9,207.6 222.0,210.2C218.1,212.8 214.4,215.6 210.8,218.6C207.3,221.6 203.8,224.8 200.6,228.2C197.4,231.5 194.4,235.1 191.6,238.8C188.8,242.5 186.3,246.5 183.9,250.5C181.6,254.5 179.6,258.7 177.7,263.0C175.9,267.3 174.3,271.7 172.9,276.1C171.5,280.6 170.4,285.1 169.4,289.7C168.5,294.2 167.7,298.8 167.2,303.5C166.7,308.1 166.4,312.8 166.3,317.4C166.2,322.1 166.4,326.7 166.7,331.4C167.0,336.0 167.5,340.7 168.2,345.3C168.8,349.9 169.7,354.5 170.7,359.0C171.6,363.6 172.8,368.1 174.0,372.6C175.2,377.1 176.6,381.6 178.0,386.0C179.4,390.4 180.9,394.8 182.5,399.2C184.1,403.6 185.7,408.0 187.4,412.3C189.0,416.7 190.8,421.0 192.5,425.3C194.3,429.7 196.0,434.0 197.8,438.3C199.7,442.5 201.5,446.8 203.4,451.1C205.3,455.3 207.3,459.5 209.4,463.7C211.4,467.9 213.5,472.1 215.7,476.2C217.8,480.3 220.1,484.4 222.4,488.4C224.8,492.5 227.2,496.4 229.7,500.4C232.2,504.3 234.8,508.2 237.6,511.9C240.3,515.7 243.1,519.4 246.0,523.1C249.0,526.7 252.0,530.2 255.2,533.6C258.4,537.0 261.7,540.3 265.1,543.5C268.5,546.6 272.1,549.6 275.8,552.5C279.5,555.3 283.3,558.0 287.1,560.6C291.0,563.2 295.0,565.6 299.0,567.9C303.1,570.3 307.2,572.4 311.4,574.5C315.5,576.6 319.8,578.6 324.0,580.5C328.3,582.3 332.6,584.1 336.9,585.9C341.2,587.6 345.6,589.3 350.0,590.8C354.4,592.4 358.8,593.9 363.2,595.4C367.6,596.8 372.1,598.2 376.6,599.5C381.0,600.8 385.5,602.0 390.0,603.2C394.5,604.4 399.1,605.6 403.6,606.7C408.1,607.8 412.7,608.8 417.2,609.8C421.8,610.8 426.3,611.8 430.9,612.8C435.4,613.7 440.0,614.6 444.6,615.5C449.2,616.3 453.7,617.2 458.3,618.0C462.9,618.8 467.5,619.6 472.1,620.4C476.7,621.2 481.3,621.9 485.9,622.6C490.5,623.3 495.1,624.0 499.7,624.7C504.3,625.4 509.0,626.0 513.6,626.7C518.2,627.3 522.8,627.9 527.4,628.6C532.0,629.2 536.7,629.7 541.3,630.3C545.9,630.9 550.5,631.4 555.2,632.0C559.8,632.5 564.4,633.1 569.1,633.6C573.7,634.1 578.3,634.6 583.0,635.1C587.6,635.6 592.2,636.1 596.9,636.6C601.5,637.1 606.1,637.6 610.8,638.1C615.4,638.6 620.0,639.0 624.7,639.5C629.3,640.0 633.9,640.5 638.6,640.9C643.2,641.4 647.8,641.9 652.5,642.3C657.1,642.8 661.8,643.3 666.4,643.8C671.0,644.3 675.7,644.7 680.3,645.2C684.9,645.7 689.6,646.2 694.2,646.7C698.8,647.2 703.5,647.8 708.1,648.3"/><polygon class="a" points="707.5,652.9 721.3,650.0 708.7,643.6"/>
<path class="e" d="M273.0,181.7C268.4,182.4 263.7,183.0 259.1,183.8C254.5,184.5 249.9,185.4 245.3,186.4C240.7,187.3 236.2,188.3 231.6,189.4C227.1,190.5 222.5,191.6 218.0,192.8C213.5,194.0 209.0,195.3 204.5,196.6C200.0,197.9 195.5,199.2 191.0,200.6C186.5,201.9 182.1,203.4 177.6,204.8C173.1,206.2 168.7,207.7 164.3,209.1C159.8,210.6 155.4,212.1 150.9,213.6C146.5,215.1 142.1,216.7 137.7,218.3C133.3,219.9 128.9,221.5 124.5,223.2C120.2,224.9 115.9,226.7 111.6,228.5C107.3,230.4 103.0,232.3 98.8,234.4C94.6,236.5 90.4,238.6 86.4,240.9C82.3,243.2 78.3,245.6 74.4,248.2C70.4,250.7 66.6,253.4 62.9,256.3C59.2,259.1 55.6,262.1 52.1,265.3C48.7,268.4 45.3,271.7 42.2,275.2C39.0,278.6 36.0,282.2 33.2,285.9C30.3,289.6 27.6,293.5 25.2,297.5C22.7,301.4 20.4,305.5 18.4,309.7C16.3,313.9 14.5,318.3 12.9,322.7C11.3,327.1 10.0,331.6 9.0,336.2C8.0,340.7 7.3,345.4 6.7,350.0C6.1,354.6 5.8,359.3 5.6,364.0C5.4,368.7 5.5,373.4 5.5,378.0C5.5,382.7 5.5,387.4 5.5,392.1C5.5,396.8 5.5,401.4 5.5,406.1C5.5,410.8 5.5,415.5 5.5,420.2C5.5,424.8 5.5,429.5 5.5,434.2C5.5,438.9 5.5,443.6 5.5,448.2C5.5,452.9 5.5,457.6 5.5,462.3C5.5,467.0 5.5,471.6 5.5,476.3C5.5,481.0 5.5,485.7 5.5,490.4C5.5,495.0 5.5,499.7 5.5,504.4C5.5,509.1 5.5,513.8 5.5,518.4C5.5,523.1 5.5,527.8 5.5,532.5C5.5,537.2 5.5,541.9 5.5,546.5C5.5,551.2 5.4,555.9 5.7,560.6C6.0,565.2 6.4,569.9 7.2,574.5C7.9,579.1 8.9,583.7 10.2,588.2C11.5,592.7 13.1,597.1 15.1,601.4C17.0,605.6 19.2,609.8 21.8,613.7C24.4,617.6 27.3,621.3 30.5,624.7C33.8,628.0 37.4,631.1 41.1,633.9C44.9,636.7 48.9,639.1 53.0,641.4C57.0,643.7 61.3,645.7 65.5,647.7C69.8,649.6 74.1,651.3 78.5,653.0C82.8,654.7 87.3,656.3 91.7,657.9C96.1,659.4 100.5,660.9 105.0,662.4C109.4,663.8 113.9,665.3 118.3,666.7C122.8,668.2 127.2,669.7 131.7,671.1C136.1,672.5 140.6,674.0 145.0,675.4C149.5,676.8 153.9,678.3 158.4,679.7C162.9,681.1 167.4,682.4 171.8,683.8C176.3,685.1 180.8,686.4 185.3,687.7C189.8,689.0 194.3,690.3 198.8,691.5C203.4,692.7 207.9,693.9 212.4,695.0C217.0,696.1 221.5,697.2 226.1,698.3C230.6,699.4 235.2,700.4 239.8,701.4C244.4,702.3 248.9,703.3 253.5,704.2C258.1,705.1 262.7,706.0 267.3,706.9C271.9,707.7 276.5,708.5 281.1,709.3C285.8,710.1 290.4,710.9 295.0,711.6C299.6,712.3 304.2,713.0 308.9,713.7C313.5,714.4 318.1,715.1 322.8,715.7C327.4,716.3 332.1,716.9 336.7,717.5C341.3,718.1 346.0,718.7 350.6,719.2C355.3,719.8 359.9,720.3 364.6,720.8C369.2,721.4 373.9,721.9 378.5,722.3C383.2,722.8 387.9,723.3 392.5,723.8C397.2,724.2 401.8,724.7 406.5,725.1C411.2,725.5 415.8,726.0 420.5,726.4C425.1,726.8 429.8,727.2 434.5,727.6C439.1,728.0 443.8,728.4 448.5,728.8C453.1,729.2 457.8,729.6 462.5,730.0C467.1,730.4 471.8,730.7 476.4,731.1C481.1,731.5 485.8,731.9 490.4,732.3C495.1,732.7 499.8,733.0 504.4,733.4C509.1,733.8 513.8,734.2 518.4,734.6C523.1,735.0 527.8,735.4 532.4,735.8C537.1,736.1 541.7,736.5 546.4,736.9C551.1,737.3 555.7,737.7 560.4,738.0C565.1,738.4 569.7,738.8 574.4,739.1C579.1,739.5 583.7,739.9 588.4,740.2C593.1,740.6 597.7,740.9 602.4,741.3C607.1,741.6 611.7,742.0 616.4,742.3C621.1,742.6 625.8,743.0 630.4,743.3C635.1,743.6 639.8,743.9 644.4,744.2C649.1,744.5 653.8,744.8 658.4,745.1C663.1,745.4 667.8,745.7 672.5,745.9C677.1,746.2 681.8,746.4 686.5,746.7C691.2,746.9 695.8,747.2 700.5,747.4C705.2,747.6 709.9,747.8 714.5,748.0C719.2,748.2 723.9,748.4 728.6,748.5C733.2,748.7 737.9,748.9 742.6,749.0C747.3,749.1 752.0,749.3 756.6,749.4C761.3,749.5 766.0,749.6 770.7,749.6"/><polygon class="a" points="770.6,754.3 784.0,750.0 770.8,745.0"/>
<path class="e" d="M508.0,191.0L285.3,256.3"/><polygon class="a" points="284.0,251.8 272.5,260.0 286.6,260.7"/>
<path class="e" d="M549.0,198.5L471.2,331.0"/><polygon class="a" points="467.2,328.6 464.5,342.5 475.3,333.4"/>
<path class="e" d="M573.0,198.5C574.9,202.7 576.8,206.9 578.7,211.2C580.7,215.4 582.7,219.6 584.6,223.7C586.6,227.9 588.6,232.1 590.7,236.3C592.7,240.4 594.7,244.6 596.8,248.7C598.9,252.9 600.9,257.0 603.0,261.2C605.1,265.3 607.3,269.4 609.4,273.5C611.5,277.6 613.7,281.7 615.9,285.8C618.1,289.9 620.2,294.0 622.5,298.0C624.7,302.1 626.9,306.2 629.1,310.2C631.4,314.3 633.6,318.3 635.9,322.4C638.2,326.4 640.5,330.4 642.8,334.4C645.1,338.5 647.4,342.5 649.8,346.5C652.1,350.5 654.5,354.4 656.9,358.4C659.3,362.4 661.7,366.3 664.1,370.3C666.6,374.2 669.0,378.1 671.5,382.0C674.0,385.9 676.5,389.8 679.1,393.7C681.6,397.6 684.2,401.4 686.8,405.2C689.4,409.1 692.1,412.9 694.8,416.7C697.4,420.4 700.2,424.2 702.9,427.9"/><polygon class="a" points="699.2,430.7 711.0,438.5 706.6,425.1"/>
<path class="e" d="M588.0,198.5C591.0,202.1 594.0,205.8 597.1,209.4C600.1,213.0 603.3,216.6 606.4,220.1C609.6,223.6 612.8,227.1 616.0,230.6C619.2,234.0 622.5,237.4 625.8,240.8C629.1,244.2 632.4,247.6 635.7,251.0C639.1,254.3 642.4,257.7 645.8,261.0C649.1,264.3 652.5,267.7 655.8,271.0C659.2,274.3 662.6,277.7 665.9,281.0C669.3,284.4 672.6,287.7 675.9,291.1C679.2,294.4 682.6,297.8 685.9,301.2C689.1,304.6 692.4,308.0 695.6,311.5C698.8,315.0 702.0,318.5 705.1,322.1C708.2,325.6 711.2,329.3 714.2,332.9C717.2,336.6 720.1,340.4 722.9,344.2C725.7,348.0 728.4,351.8 731.1,355.7C733.8,359.6 736.4,363.6 739.0,367.6C741.5,371.5 744.0,375.6 746.5,379.6C749.0,383.6 751.4,387.7 753.8,391.8C756.2,395.9 758.5,400.0 760.8,404.1C763.2,408.2 765.5,412.3 767.8,416.5C770.1,420.6 772.3,424.8 774.6,428.9C776.8,433.1 779.0,437.3 781.1,441.5C783.2,445.8 785.3,450.0 787.3,454.3C789.3,458.6 791.2,462.9 793.0,467.3C794.8,471.7 796.5,476.1 798.1,480.5C799.7,485.0 801.2,489.5 802.6,494.0C804.0,498.5 805.2,503.1 806.4,507.7C807.6,512.2 808.6,516.9 809.7,521.5"/><polygon class="a" points="805.2,522.4 812.5,534.5 814.3,520.5"/>
<path class="e" d="M567.0,198.5C568.0,203.0 569.1,207.6 570.1,212.1C571.1,216.7 572.1,221.2 573.2,225.8C574.2,230.3 575.3,234.9 576.4,239.4C577.6,243.9 578.7,248.5 580.0,253.0C581.2,257.5 582.4,262.0 583.7,266.5C585.0,271.0 586.3,275.5 587.7,279.9C589.0,284.4 590.4,288.9 591.9,293.3C593.3,297.7 594.8,302.2 596.2,306.6C597.7,311.0 599.3,315.4 600.8,319.8C602.4,324.2 604.0,328.6 605.6,333.0C607.3,337.4 608.9,341.8 610.6,346.1C612.3,350.5 614.0,354.8 615.8,359.1C617.5,363.5 619.3,367.8 621.1,372.1C623.0,376.4 624.8,380.7 626.7,385.0C628.5,389.2 630.4,393.5 632.4,397.8C634.3,402.0 636.2,406.3 638.2,410.5C640.2,414.7 642.2,418.9 644.2,423.2C646.3,427.4 648.3,431.6 650.4,435.7C652.5,439.9 654.6,444.1 656.7,448.3C658.8,452.4 661.0,456.6 663.2,460.7C665.3,464.8 667.5,468.9 669.7,473.1C672.0,477.2 674.2,481.3 676.4,485.4C678.7,489.5 681.0,493.5 683.2,497.6C685.5,501.7 687.8,505.8 690.1,509.8C692.4,513.9 694.7,518.0 697.0,522.0C699.3,526.1 701.7,530.1 704.0,534.2C706.3,538.3 708.6,542.3 710.9,546.4C713.2,550.4 715.5,554.5 717.9,558.5C720.2,562.6 722.5,566.7 724.8,570.7C727.1,574.8 729.5,578.8 731.8,582.8C734.1,586.9 736.5,590.9 738.8,595.0C741.2,599.0 743.5,603.0 745.9,607.1C748.3,611.1 750.7,615.1 753.1,619.1"/><polygon class="a" points="749.1,621.5 760.0,630.5 757.1,616.7"/>
<path class="e" d="M508.0,182.0C503.4,182.6 498.8,183.3 494.1,183.9C489.5,184.5 484.9,185.2 480.3,185.8C475.7,186.5 471.1,187.2 466.4,187.9C461.8,188.5 457.2,189.2 452.6,189.9C448.0,190.6 443.4,191.3 438.8,192.0C434.2,192.7 429.6,193.5 424.9,194.2C420.3,194.9 415.7,195.6 411.1,196.4C406.5,197.1 401.9,197.9 397.3,198.6C392.7,199.4 388.1,200.1 383.5,200.9C378.9,201.6 374.3,202.4 369.7,203.2C365.1,203.9 360.5,204.7 355.9,205.5C351.3,206.3 346.7,207.0 342.1,207.8C337.5,208.6 332.9,209.4 328.3,210.2C323.7,210.9 319.1,211.7 314.5,212.5C309.9,213.3 305.3,214.1 300.7,214.9C296.1,215.7 291.5,216.4 286.9,217.3C282.4,218.1 277.8,218.9 273.2,219.7C268.6,220.6 264.0,221.4 259.4,222.4C254.9,223.3 250.3,224.2 245.7,225.2C241.2,226.3 236.6,227.3 232.1,228.5C227.6,229.6 223.1,230.8 218.6,232.2C214.2,233.6 209.8,235.1 205.5,237.0C201.3,238.9 197.0,240.9 193.1,243.5C189.2,246.0 185.6,249.0 182.2,252.2C178.8,255.3 175.7,258.9 172.7,262.4C169.6,265.9 166.8,269.6 163.8,273.2C160.9,276.8 157.9,280.5 155.0,284.1C152.0,287.7 149.0,291.3 146.2,295.0C143.3,298.6 140.4,302.3 137.8,306.2C135.1,310.0 132.6,313.9 130.2,317.9C127.8,321.9 125.6,326.1 123.6,330.2C121.6,334.4 119.7,338.7 118.0,343.1C116.3,347.4 114.7,351.8 113.3,356.2C112.0,360.7 110.7,365.2 109.7,369.7C108.6,374.3 107.7,378.9 106.9,383.5C106.2,388.1 105.6,392.7 105.1,397.3C104.6,402.0 104.3,406.6 104.2,411.3C104.0,415.9 104.0,420.6 104.1,425.3C104.2,429.9 104.4,434.6 104.7,439.2C105.0,443.9 105.5,448.5 106.0,453.2C106.5,457.8 107.2,462.4 107.9,467.0C108.6,471.7 109.4,476.2 110.3,480.8C111.1,485.4 112.1,490.0 113.1,494.5C114.1,499.1 115.2,503.6 116.3,508.1C117.4,512.7 118.6,517.2 119.8,521.7C121.1,526.2 122.3,530.7 123.6,535.2C124.9,539.6 126.3,544.1 127.6,548.6C129.0,553.0 130.4,557.5 131.8,561.9C133.3,566.3 134.7,570.8 136.2,575.2C137.7,579.6 139.2,584.0 140.7,588.4C142.2,592.8 143.8,597.2 145.3,601.6C146.9,606.0 148.4,610.5 150.1,614.8C151.9,619.1 153.7,623.5 155.9,627.5C158.1,631.6 160.6,635.6 163.4,639.3C166.1,643.1 169.2,646.6 172.4,650.0C175.6,653.4 179.0,656.6 182.6,659.6C186.1,662.6 189.8,665.5 193.6,668.2C197.4,670.8 201.4,673.4 205.4,675.7C209.4,678.1 213.5,680.3 217.7,682.4C221.9,684.5 226.1,686.4 230.4,688.2C234.7,690.0 239.1,691.6 243.5,693.2C247.9,694.8 252.3,696.2 256.8,697.6C261.2,698.9 265.7,700.2 270.2,701.4C274.7,702.6 279.3,703.7 283.8,704.8C288.4,705.8 292.9,706.8 297.5,707.8C302.0,708.8 306.6,709.8 311.2,710.7C315.7,711.6 320.3,712.5 324.9,713.4C329.5,714.2 334.1,715.1 338.7,715.9C343.3,716.7 347.8,717.5 352.5,718.2C357.1,719.0 361.7,719.7 366.3,720.4C370.9,721.1 375.5,721.8 380.1,722.5C384.7,723.2 389.3,723.8 394.0,724.4C398.6,725.0 403.2,725.6 407.8,726.2C412.5,726.8 417.1,727.4 421.7,727.9C426.4,728.4 431.0,729.0 435.6,729.5C440.3,730.0 444.9,730.5 449.5,730.9C454.2,731.4 458.8,731.9 463.5,732.3C468.1,732.8 472.8,733.2 477.4,733.6C482.0,734.0 486.7,734.5 491.3,734.9C496.0,735.3 500.6,735.6 505.3,736.0C509.9,736.4 514.6,736.8 519.2,737.1C523.9,737.5 528.5,737.8 533.2,738.2C537.8,738.5 542.5,738.9 547.1,739.2C551.8,739.6 556.4,739.9 561.1,740.2C565.7,740.6 570.4,740.9 575.0,741.2C579.7,741.5 584.3,741.8 589.0,742.1C593.7,742.4 598.3,742.7 603.0,743.0C607.6,743.3 612.3,743.6 616.9,743.9C621.6,744.2 626.2,744.4 630.9,744.7C635.6,745.0 640.2,745.2 644.9,745.5C649.5,745.8 654.2,746.0 658.8,746.2C663.5,746.5 668.2,746.7 672.8,746.9C677.5,747.2 682.1,747.4 686.8,747.6C691.4,747.8 696.1,748.0 700.8,748.2C705.4,748.4 710.1,748.6 714.7,748.8C719.4,749.0 724.1,749.1 728.7,749.3C733.4,749.5 738.0,749.6 742.7,749.8C747.4,749.9 752.0,750.1 756.7,750.2C761.4,750.3 766.0,750.4 770.7,750.6"/><polygon class="a" points="770.5,755.2 784.0,751.0 770.8,745.9"/>
<path class="e" d="M272.0,287.0L385.3,337.1"/><polygon class="a" points="383.4,341.4 397.5,342.5 387.2,332.8"/>
<path class="e" d="M258.8,294.5C262.1,297.9 265.3,301.3 268.6,304.7C271.9,308.0 275.2,311.3 278.6,314.6C282.0,317.9 285.5,321.1 289.0,324.2C292.5,327.4 296.0,330.5 299.6,333.6C303.2,336.6 306.8,339.6 310.5,342.5C314.2,345.4 318.0,348.3 321.7,351.1C325.5,353.9 329.4,356.7 333.2,359.3C337.1,362.0 341.0,364.6 345.0,367.2C349.0,369.7 353.0,372.2 357.0,374.6C361.1,377.0 365.2,379.3 369.3,381.5C373.4,383.8 377.6,386.0 381.8,388.1C386.1,390.2 390.3,392.2 394.6,394.2C398.9,396.1 403.2,398.0 407.5,399.9C411.9,401.7 416.2,403.5 420.6,405.2C425.0,406.9 429.4,408.5 433.8,410.1C438.3,411.7 442.7,413.3 447.2,414.7C451.7,416.2 456.2,417.7 460.7,419.1C465.2,420.4 469.7,421.8 474.2,423.1C478.7,424.4 483.3,425.6 487.8,426.8C492.4,428.0 496.9,429.2 501.5,430.3C506.1,431.4 510.7,432.5 515.3,433.6C519.9,434.6 524.5,435.6 529.1,436.6C533.7,437.6 538.3,438.5 542.9,439.5C547.5,440.4 552.1,441.3 556.8,442.2C561.4,443.0 566.0,443.9 570.7,444.7C575.3,445.5 580.0,446.3 584.6,447.1C589.2,447.9 593.9,448.6 598.5,449.4C603.2,450.1 607.9,450.8 612.5,451.5C617.2,452.2 621.8,452.8 626.5,453.5C631.2,454.1 635.8,454.7 640.5,455.3C645.2,455.8 649.9,456.4 654.6,456.9C659.2,457.4 663.9,457.9 668.6,458.3C673.3,458.8 678.0,459.1 682.7,459.5"/><polygon class="a" points="682.4,464.2 696.0,460.3 683.0,454.9"/>
<path class="e" d="M234.2,294.5C234.2,299.2 234.1,303.9 234.2,308.6C234.2,313.3 234.3,318.0 234.4,322.7C234.5,327.4 234.7,332.1 235.0,336.8C235.2,341.5 235.5,346.2 235.9,350.9C236.2,355.6 236.7,360.3 237.2,365.0C237.7,369.7 238.3,374.3 239.0,379.0C239.7,383.6 240.5,388.3 241.4,392.9C242.3,397.5 243.3,402.1 244.4,406.7C245.5,411.3 246.7,415.8 248.0,420.3C249.3,424.8 250.8,429.3 252.4,433.7C254.0,438.2 255.7,442.6 257.7,446.8C259.7,451.1 261.8,455.3 264.2,459.4C266.6,463.4 269.1,467.5 272.0,471.1C275.0,474.7 278.4,478.1 282.1,480.9C285.8,483.8 290.1,485.9 294.3,488.0C298.5,490.0 303.0,491.5 307.5,493.0C311.9,494.6 316.4,496.0 320.9,497.4C325.4,498.8 329.9,500.1 334.4,501.4C339.0,502.7 343.5,503.9 348.1,505.0C352.6,506.2 357.2,507.3 361.8,508.4C366.4,509.5 371.0,510.5 375.6,511.5C380.2,512.4 384.8,513.4 389.4,514.3C394.0,515.2 398.7,516.0 403.3,516.8C407.9,517.6 412.6,518.4 417.2,519.1C421.9,519.9 426.5,520.6 431.2,521.3C435.8,522.0 440.5,522.6 445.1,523.2C449.8,523.9 454.5,524.5 459.1,525.1C463.8,525.7 468.5,526.2 473.2,526.8C477.8,527.3 482.5,527.8 487.2,528.4C491.9,528.9 496.5,529.4 501.2,529.9C505.9,530.4 510.6,530.9 515.3,531.4C519.9,531.8 524.6,532.3 529.3,532.8C534.0,533.3 538.7,533.8 543.4,534.2C548.0,534.7 552.7,535.2 557.4,535.7C562.1,536.2 566.8,536.7 571.4,537.2C576.1,537.7 580.8,538.2 585.5,538.7C590.1,539.2 594.8,539.7 599.5,540.2C604.2,540.7 608.9,541.2 613.5,541.7C618.2,542.3 622.9,542.8 627.6,543.3C632.3,543.8 636.9,544.2 641.6,544.7C646.3,545.2 651.0,545.7 655.7,546.2C660.3,546.7 665.0,547.1 669.7,547.6C674.4,548.1 679.1,548.5 683.8,548.9C688.4,549.4 693.1,549.8 697.8,550.2C702.5,550.7 707.2,551.1 711.9,551.5C716.6,551.9 721.3,552.2 726.0,552.6C730.6,553.0 735.3,553.3 740.0,553.6C744.7,554.0 749.4,554.3 754.1,554.6C758.8,554.9 763.5,555.1 768.2,555.4"/><polygon class="a" points="767.8,560.1 781.5,556.5 768.6,550.8"/>
<path class="e" d="M230.0,294.5C228.9,299.0 227.7,303.5 226.7,308.1C225.7,312.7 224.9,317.3 224.1,321.9C223.3,326.5 222.6,331.1 222.0,335.7C221.4,340.4 220.8,345.0 220.4,349.7C219.9,354.3 219.6,359.0 219.3,363.6C219.0,368.3 218.9,373.0 218.8,377.7C218.7,382.3 218.7,387.0 218.9,391.7C219.1,396.3 219.3,401.0 219.8,405.7C220.2,410.3 220.8,415.0 221.6,419.6C222.4,424.2 223.3,428.8 224.5,433.3C225.8,437.8 227.2,442.2 228.9,446.6C230.6,450.9 232.5,455.2 234.6,459.4C236.8,463.5 239.1,467.6 241.7,471.5C244.3,475.4 247.1,479.1 250.1,482.7C253.0,486.3 256.2,489.8 259.5,493.0C262.9,496.3 266.4,499.4 270.0,502.3C273.7,505.3 277.5,508.0 281.3,510.6C285.2,513.3 289.1,515.8 293.1,518.2C297.1,520.6 301.2,522.9 305.3,525.2C309.4,527.4 313.5,529.6 317.7,531.7C321.9,533.8 326.1,535.8 330.4,537.7C334.6,539.7 338.9,541.5 343.2,543.3C347.5,545.2 351.8,546.9 356.2,548.6C360.6,550.3 364.9,551.9 369.3,553.5C373.7,555.1 378.1,556.7 382.5,558.2C387.0,559.7 391.4,561.2 395.9,562.6C400.3,564.1 404.8,565.5 409.2,566.9C413.7,568.3 418.1,569.6 422.6,571.0C427.1,572.3 431.6,573.7 436.0,575.0C440.5,576.3 445.0,577.7 449.5,579.0C454.0,580.3 458.5,581.6 462.9,582.9C467.4,584.3 471.9,585.6 476.4,586.9C480.9,588.2 485.4,589.4 489.9,590.7C494.4,592.0 498.9,593.3 503.4,594.5C507.9,595.8 512.4,597.0 516.9,598.2C521.4,599.4 525.9,600.6 530.5,601.8C535.0,603.0 539.5,604.2 544.0,605.3C548.6,606.5 553.1,607.6 557.6,608.8C562.2,609.9 566.7,611.0 571.2,612.1C575.8,613.2 580.3,614.3 584.9,615.4C589.4,616.5 594.0,617.5 598.5,618.6C603.1,619.6 607.6,620.7 612.2,621.7C616.7,622.7 621.3,623.8 625.9,624.8C630.4,625.8 635.0,626.8 639.6,627.8C644.1,628.8 648.7,629.8 653.3,630.7C657.8,631.7 662.4,632.7 667.0,633.7C671.6,634.6 676.1,635.6 680.7,636.5C685.3,637.5 689.9,638.4 694.4,639.4C699.0,640.3 703.6,641.2 708.2,642.2"/><polygon class="a" points="707.4,646.8 721.3,644.5 709.0,637.6"/>
<path class="e" d="M219.0,294.5C216.2,298.3 213.4,302.0 210.7,305.8C207.9,309.6 205.3,313.5 202.7,317.5C200.2,321.4 197.7,325.4 195.4,329.5C193.0,333.6 190.8,337.7 188.7,341.9C186.6,346.1 184.6,350.3 182.6,354.6C180.7,358.9 178.9,363.2 177.2,367.6C175.6,372.0 174.0,376.4 172.5,380.9C171.0,385.3 169.7,389.8 168.4,394.4C167.1,398.9 166.0,403.4 165.0,408.0C163.9,412.6 163.0,417.2 162.2,421.8C161.3,426.5 160.6,431.1 160.0,435.8C159.4,440.4 158.9,445.1 158.4,449.8C158.0,454.4 157.7,459.1 157.5,463.8C157.3,468.5 157.2,473.2 157.1,477.9C157.0,482.6 157.0,487.3 157.0,492.0C157.0,496.7 157.0,501.4 157.0,506.1C157.0,510.8 157.0,515.5 157.0,520.2C157.0,524.9 157.0,529.6 157.0,534.3C157.0,539.0 156.8,543.7 157.0,548.4C157.2,553.0 157.2,557.8 158.1,562.4C158.9,567.0 160.1,571.6 161.8,575.9C163.5,580.3 165.7,584.5 168.1,588.5C170.6,592.5 173.5,596.2 176.6,599.7C179.7,603.2 183.2,606.5 186.7,609.5C190.3,612.5 194.1,615.3 198.0,617.9C201.9,620.5 206.0,622.9 210.1,625.2C214.2,627.5 218.4,629.6 222.6,631.6C226.8,633.7 231.1,635.6 235.4,637.5C239.7,639.5 244.0,641.4 248.3,643.3C252.6,645.2 256.8,647.1 261.1,649.0C265.4,650.9 269.7,652.8 274.0,654.7C278.3,656.6 282.6,658.5 287.0,660.3C291.3,662.1 295.7,663.8 300.0,665.5C304.4,667.2 308.8,668.9 313.2,670.5C317.7,672.0 322.1,673.6 326.6,675.1C331.0,676.6 335.5,678.0 340.0,679.4C344.4,680.8 348.9,682.2 353.5,683.5C358.0,684.8 362.5,686.0 367.0,687.3C371.6,688.5 376.1,689.7 380.7,690.8C385.2,692.0 389.8,693.1 394.3,694.1C398.9,695.2 403.5,696.3 408.1,697.3C412.7,698.3 417.3,699.3 421.9,700.2C426.5,701.2 431.1,702.1 435.7,703.0C440.3,703.9 444.9,704.7 449.5,705.6C454.1,706.5 458.8,707.3 463.4,708.1C468.0,708.9 472.7,709.7 477.3,710.5C481.9,711.2 486.6,712.0 491.2,712.7C495.8,713.5 500.5,714.2 505.1,714.9C509.7,715.6 514.4,716.3 519.0,717.1C523.7,717.8 528.3,718.4 533.0,719.1C537.6,719.8 542.3,720.5 546.9,721.2C551.6,721.9 556.2,722.6 560.9,723.2C565.5,723.9 570.1,724.6 574.8,725.2C579.4,725.9 584.1,726.6 588.7,727.2C593.4,727.9 598.0,728.5 602.7,729.2C607.4,729.8 612.0,730.5 616.7,731.1C621.3,731.7 626.0,732.3 630.6,732.9C635.3,733.6 639.9,734.2 644.6,734.8C649.3,735.4 653.9,735.9 658.6,736.5C663.2,737.1 667.9,737.7 672.6,738.2C677.2,738.8 681.9,739.3 686.6,739.8C691.2,740.4 695.9,740.9 700.6,741.4C705.2,741.9 709.9,742.4 714.6,742.9C719.3,743.4 723.9,743.8 728.6,744.3C733.3,744.7 738.0,745.2 742.6,745.6C747.3,746.0 752.0,746.4 756.7,746.8C761.3,747.2 766.0,747.6 770.7,748.0"/><polygon class="a" points="770.3,752.6 784.0,749.0 771.1,743.3"/>
<path class="e" d="M504.0,385.0C508.3,386.4 512.6,387.8 516.8,389.2C521.1,390.6 525.4,392.0 529.7,393.4C534.0,394.9 538.2,396.3 542.5,397.8C546.8,399.2 551.0,400.7 555.3,402.1C559.6,403.6 563.8,405.1 568.1,406.6C572.3,408.1 576.6,409.6 580.8,411.0C585.1,412.5 589.3,414.0 593.6,415.5C597.8,417.0 602.1,418.5 606.3,420.0C610.6,421.5 614.9,423.0 619.1,424.5C623.4,425.9 627.6,427.4 631.9,428.9C636.2,430.3 640.4,431.8 644.7,433.2C649.0,434.7 653.2,436.1 657.5,437.5C661.8,438.9 666.1,440.4 670.4,441.7C674.6,443.1 678.9,444.5 683.2,445.8"/><polygon class="a" points="681.9,450.3 696.0,449.7 684.6,441.4"/>
<path class="e" d="M497.0,390.5C501.1,392.6 505.3,394.8 509.4,396.9C513.6,399.0 517.7,401.2 521.9,403.3C526.0,405.5 530.1,407.6 534.3,409.8C538.4,411.9 542.6,414.0 546.7,416.2C550.8,418.3 555.0,420.5 559.1,422.6C563.3,424.8 567.4,426.9 571.5,429.1C575.7,431.3 579.8,433.4 583.9,435.6C588.0,437.8 592.2,439.9 596.3,442.1C600.4,444.3 604.5,446.5 608.6,448.7C612.8,450.9 616.9,453.1 621.0,455.3C625.1,457.5 629.2,459.7 633.3,462.0C637.4,464.2 641.4,466.5 645.5,468.7C649.6,471.0 653.7,473.2 657.7,475.5C661.8,477.8 665.9,480.1 669.9,482.3C674.0,484.6 678.1,486.9 682.2,489.2C686.2,491.5 690.3,493.7 694.4,496.0C698.5,498.2 702.5,500.5 706.6,502.7C710.7,505.0 714.8,507.2 718.9,509.4C723.0,511.6 727.2,513.8 731.3,515.9C735.4,518.1 739.6,520.2 743.7,522.3C747.9,524.4 752.1,526.4 756.3,528.4C760.5,530.4 764.8,532.3 769.0,534.2"/><polygon class="a" points="767.4,538.6 781.5,539.0 770.7,529.9"/>
<path class="e" d="M454.3,390.5C455.3,395.1 456.2,399.7 457.3,404.3C458.3,408.8 459.3,413.4 460.4,418.0C461.5,422.5 462.6,427.1 463.8,431.6C464.9,436.2 466.2,440.7 467.5,445.2C468.8,449.7 470.1,454.2 471.6,458.7C473.0,463.2 474.5,467.6 476.1,472.0C477.6,476.4 479.3,480.8 481.0,485.2C482.8,489.5 484.6,493.9 486.5,498.1C488.5,502.4 490.5,506.7 492.6,510.8C494.7,515.0 497.0,519.2 499.3,523.2C501.6,527.3 504.0,531.3 506.6,535.3C509.1,539.2 511.7,543.1 514.5,546.9C517.2,550.7 520.1,554.5 523.0,558.1C526.0,561.7 529.0,565.3 532.2,568.7C535.4,572.2 538.7,575.5 542.1,578.8C545.5,582.0 549.0,585.1 552.6,588.1C556.2,591.1 560.0,593.9 563.8,596.7C567.6,599.4 571.5,602.0 575.5,604.5C579.4,607.0 583.5,609.4 587.6,611.6C591.7,613.9 595.9,616.0 600.1,618.1C604.3,620.1 608.6,622.0 613.0,623.9C617.3,625.7 621.7,627.4 626.1,629.0C630.5,630.6 634.9,632.1 639.4,633.6C643.8,635.0 648.3,636.3 652.9,637.6C657.4,638.8 661.9,639.9 666.5,641.0C671.1,642.1 675.7,643.1 680.3,643.9C684.9,644.8 689.5,645.7 694.1,646.4C698.8,647.1 703.4,647.7 708.1,648.3"/><polygon class="a" points="707.5,653.0 721.3,650.0 708.7,643.7"/>
<path class="e" d="M449.2,390.5C449.2,395.2 449.3,399.8 449.3,404.5C449.4,409.1 449.5,413.8 449.6,418.4C449.8,423.1 450.0,427.7 450.2,432.4C450.5,437.0 450.8,441.6 451.2,446.3C451.6,450.9 452.1,455.5 452.6,460.2C453.2,464.8 453.8,469.4 454.6,474.0C455.3,478.6 456.2,483.1 457.2,487.7C458.1,492.2 459.2,496.8 460.4,501.3C461.7,505.7 463.0,510.2 464.5,514.6C466.0,519.0 467.6,523.4 469.4,527.7C471.2,532.0 473.1,536.2 475.1,540.4C477.2,544.6 479.4,548.7 481.7,552.7C484.1,556.7 486.6,560.7 489.2,564.5C491.8,568.3 494.6,572.1 497.5,575.7C500.4,579.3 503.4,582.9 506.6,586.3C509.7,589.8 512.9,593.1 516.2,596.4C519.5,599.6 522.9,602.8 526.4,605.9C529.8,609.1 533.4,612.1 536.9,615.1C540.5,618.1 544.1,621.0 547.7,623.9C551.4,626.8 555.1,629.6 558.8,632.4C562.5,635.2 566.3,638.0 570.1,640.7C573.9,643.4 577.7,646.0 581.6,648.6C585.4,651.2 589.3,653.7 593.2,656.2C597.2,658.7 601.1,661.2 605.1,663.6C609.1,666.0 613.1,668.4 617.1,670.7C621.1,673.0 625.2,675.3 629.3,677.5C633.4,679.7 637.5,681.9 641.6,684.0C645.8,686.2 649.9,688.2 654.1,690.3C658.3,692.3 662.5,694.3 666.7,696.3C670.9,698.3 675.2,700.2 679.4,702.0C683.7,703.9 688.0,705.7 692.2,707.5C696.5,709.3 700.9,711.1 705.2,712.8C709.5,714.5 713.8,716.2 718.2,717.8C722.6,719.4 726.9,721.0 731.3,722.6C735.7,724.1 740.1,725.7 744.5,727.1C748.9,728.6 753.3,730.1 757.8,731.5C762.2,732.9 766.7,734.2 771.1,735.6"/><polygon class="a" points="769.9,740.1 784.0,739.0 772.3,731.1"/>
<path class="e" d="M832.0,287.5C827.4,288.4 822.9,289.3 818.3,290.3C813.7,291.2 809.2,292.1 804.6,293.0C800.0,293.9 795.4,294.9 790.9,295.8C786.3,296.7 781.7,297.6 777.2,298.6C772.6,299.5 768.0,300.4 763.5,301.4C758.9,302.3 754.3,303.2 749.8,304.2C745.2,305.1 740.6,306.0 736.1,307.0C731.5,307.9 726.9,308.8 722.4,309.8C717.8,310.7 713.2,311.6 708.7,312.6C704.1,313.5 699.5,314.5 695.0,315.4C690.4,316.3 685.8,317.3 681.3,318.2C676.7,319.2 672.1,320.1 667.6,321.1C663.0,322.0 658.4,323.0 653.9,323.9C649.3,324.9 644.8,325.8 640.2,326.8C635.6,327.7 631.1,328.7 626.5,329.6C621.9,330.6 617.4,331.5 612.8,332.5C608.3,333.4 603.7,334.4 599.1,335.3C594.6,336.3 590.0,337.3 585.4,338.2C580.9,339.2 576.3,340.1 571.8,341.1C567.2,342.1 562.6,343.0 558.1,344.0C553.5,345.0 549.0,345.9 544.4,346.9C539.8,347.9 535.3,348.8 530.7,349.8C526.2,350.8 521.6,351.7 517.0,352.7"/><polygon class="a" points="516.1,348.1 504.0,355.5 518.0,357.3"/>
<path class="e" d="M844.0,294.5C839.9,296.3 835.6,298.1 831.6,300.0C827.5,302.0 823.5,304.1 819.5,306.3C815.6,308.6 811.7,310.9 807.9,313.4C804.1,315.9 800.4,318.5 796.8,321.3C793.2,324.0 789.6,326.9 786.3,329.9C782.9,332.9 779.6,336.1 776.5,339.4C773.4,342.7 770.5,346.2 767.8,349.8C765.1,353.5 762.5,357.3 760.3,361.2C758.1,365.2 756.2,369.3 754.4,373.5C752.7,377.7 751.2,382.0 749.8,386.3C748.4,390.6 747.2,395.0 746.1,399.4C744.9,403.7 743.8,408.1 742.7,412.5C741.6,416.9 740.5,421.3 739.3,425.7"/><polygon class="a" points="734.9,424.4 735.5,438.5 743.8,427.1"/>
<path class="e" d="M990.0,294.5L1157.8,347.0"/><polygon class="a" points="1156.4,351.5 1170.5,351.0 1159.2,342.6"/>
<path class="e" d="M961.0,294.5C964.6,297.5 968.2,300.4 971.7,303.4C975.3,306.4 978.9,309.4 982.3,312.5C985.7,315.6 989.2,318.8 992.4,322.2C995.5,325.5 998.7,329.0 1001.4,332.8C1004.0,336.6 1006.6,340.6 1008.5,344.8C1010.3,349.0 1011.7,353.6 1012.4,358.1C1013.1,362.6 1013.0,367.4 1012.5,372.0C1011.9,376.6 1010.7,381.2 1009.3,385.6C1007.9,390.0 1006.1,394.3 1004.0,398.5C1002.0,402.6 999.6,406.6 997.1,410.6C994.6,414.5 991.9,418.3 989.1,422.0C986.3,425.7 983.4,429.3 980.4,432.9C977.5,436.5 974.4,440.0 971.4,443.5C968.3,447.0 965.2,450.5 962.1,454.0C959.0,457.4 955.9,460.8 952.7,464.2C949.5,467.6 946.2,470.9 942.9,474.1C939.5,477.4 936.2,480.6 932.7,483.6C929.2,486.7 925.7,489.7 922.0,492.6C918.4,495.5 914.6,498.3 910.8,501.0C907.0,503.6 903.1,506.2 899.2,508.7C895.3,511.2 891.3,513.6 887.4,516.0C883.4,518.5 879.5,520.9 875.6,523.4C871.7,526.0 867.8,528.6 864.0,531.2"/><polygon class="a" points="861.2,527.5 853.3,539.2 866.8,535.0"/>
<path class="e" d="M977.5,294.5C981.6,296.6 985.8,298.5 989.8,300.8C993.8,303.1 997.7,305.7 1001.3,308.5C1005.0,311.3 1008.5,314.3 1011.8,317.6C1015.0,320.8 1018.2,324.3 1020.9,328.0C1023.6,331.7 1026.2,335.6 1028.2,339.7C1030.2,343.9 1032.0,348.2 1033.0,352.7C1034.1,357.1 1034.6,361.9 1034.5,366.4C1034.4,371.0 1033.6,375.6 1032.6,380.1C1031.7,384.7 1030.3,389.1 1028.9,393.5C1027.6,397.9 1026.0,402.3 1024.5,406.6C1023.0,411.0 1021.5,415.3 1019.8,419.7C1018.2,424.0 1016.6,428.3 1014.8,432.6C1013.1,436.8 1011.3,441.1 1009.4,445.3C1007.5,449.5 1005.5,453.7 1003.4,457.8C1001.4,462.0 999.2,466.1 997.0,470.1C994.7,474.1 992.4,478.1 989.9,482.0C987.5,485.9 984.9,489.8 982.2,493.5C979.5,497.3 976.8,501.0 973.9,504.6C971.1,508.2 968.1,511.8 965.1,515.3C962.1,518.8 959.0,522.3 955.9,525.7C952.8,529.1 949.6,532.4 946.4,535.7C943.1,539.0 939.8,542.3 936.5,545.5C933.2,548.7 929.9,551.9 926.5,555.1C923.2,558.2 919.8,561.4 916.4,564.5C912.9,567.6 909.5,570.7 906.1,573.7C902.6,576.8 899.1,579.8 895.6,582.8C892.1,585.8 888.5,588.8 884.9,591.7C881.3,594.6 877.7,597.4 874.0,600.2C870.4,603.0 866.7,605.8 862.9,608.5C859.1,611.2 855.4,613.8 851.5,616.4C847.7,618.9 843.7,621.3 839.8,623.8"/><polygon class="a" points="837.5,619.8 828.3,630.5 842.2,627.9"/>
<path class="e" d="M994.5,292.0C999.0,293.1 1003.5,294.3 1008.1,295.4C1012.6,296.4 1017.2,297.3 1021.7,298.2C1026.3,299.1 1030.9,299.9 1035.5,300.7C1040.1,301.4 1044.7,302.2 1049.3,302.8C1053.9,303.5 1058.5,304.1 1063.2,304.7C1067.8,305.3 1072.4,305.8 1077.1,306.3C1081.7,306.8 1086.3,307.2 1091.0,307.7C1095.6,308.1 1100.3,308.5 1104.9,308.8C1109.6,309.2 1114.2,309.5 1118.9,309.8C1123.5,310.1 1128.2,310.4 1132.8,310.7C1137.5,310.9 1142.1,311.2 1146.8,311.4C1151.4,311.6 1156.1,311.8 1160.7,312.1C1165.4,312.3 1170.0,312.5 1174.7,312.7C1179.4,312.9 1184.0,313.1 1188.7,313.3C1193.3,313.5 1198.0,313.7 1202.6,313.9C1207.3,314.1 1211.9,314.3 1216.6,314.6C1221.3,314.8 1225.9,315.1 1230.6,315.3C1235.2,315.6 1239.9,315.9 1244.5,316.2C1249.2,316.5 1253.8,316.8 1258.5,317.2C1263.1,317.6 1267.7,318.0 1272.4,318.4C1277.0,318.9 1281.7,319.4 1286.3,320.0C1290.9,320.7 1295.5,321.3 1300.1,322.1C1304.7,322.9 1309.3,323.8 1313.8,324.8C1318.4,325.8 1322.9,326.9 1327.4,328.1C1331.9,329.4 1336.3,330.7 1340.7,332.3C1345.1,333.8 1349.5,335.5 1353.8,337.4C1358.0,339.3 1362.2,341.3 1366.2,343.6C1370.3,346.0 1374.2,348.5 1377.9,351.3C1381.6,354.1 1385.1,357.2 1388.4,360.5C1391.7,363.8 1394.8,367.3 1397.6,371.0C1400.4,374.7 1403.0,378.7 1405.3,382.7C1407.6,386.8 1409.6,391.0 1411.3,395.3C1413.0,399.7 1414.4,404.1 1415.5,408.6C1416.7,413.1 1417.6,417.7 1418.3,422.3C1419.0,426.9 1419.5,431.6 1419.9,436.2C1420.2,440.9 1420.4,445.5 1420.5,450.2C1420.6,454.8 1420.5,459.5 1420.5,464.2C1420.5,468.8 1420.5,473.5 1420.5,478.1C1420.5,482.8 1420.5,487.5 1420.5,492.1C1420.5,496.8 1420.5,501.5 1420.5,506.1C1420.5,510.8 1420.5,515.4 1420.5,520.1C1420.5,524.8 1420.5,529.4 1420.5,534.1C1420.5,538.7 1420.6,543.4 1420.5,548.1C1420.4,552.7 1420.4,557.4 1419.9,562.0C1419.3,566.6 1418.5,571.3 1417.1,575.7C1415.7,580.1 1414.0,584.5 1411.7,588.5C1409.4,592.6 1406.5,596.3 1403.4,599.8C1400.4,603.3 1396.9,606.4 1393.3,609.4C1389.8,612.5 1386.0,615.3 1382.2,618.0C1378.5,620.7 1374.5,623.2 1370.6,625.6C1366.6,628.0 1362.5,630.3 1358.4,632.5C1354.3,634.7 1350.1,636.7 1345.8,638.6C1341.6,640.6 1337.3,642.5 1333.0,644.2C1328.7,646.0 1324.4,647.7 1320.0,649.4C1315.7,651.0 1311.3,652.6 1306.9,654.2C1302.5,655.7 1298.1,657.2 1293.6,658.6C1289.2,660.1 1284.8,661.5 1280.3,663.0C1275.9,664.4 1271.4,665.7 1267.0,667.1C1262.5,668.5 1258.1,669.8 1253.6,671.2C1249.1,672.5 1244.7,673.8 1240.2,675.1C1235.7,676.4 1231.2,677.7 1226.8,679.0C1222.3,680.2 1217.8,681.5 1213.3,682.7C1208.8,684.0 1204.3,685.2 1199.8,686.4C1195.3,687.6 1190.8,688.8 1186.3,690.0C1181.8,691.2 1177.3,692.4 1172.8,693.5C1168.2,694.7 1163.7,695.8 1159.2,696.9C1154.7,698.0 1150.1,699.1 1145.6,700.2C1141.1,701.3 1136.5,702.4 1132.0,703.4C1127.5,704.4 1122.9,705.4 1118.4,706.4C1113.8,707.4 1109.2,708.4 1104.7,709.3C1100.1,710.3 1095.5,711.2 1091.0,712.1C1086.4,713.0 1081.8,713.8 1077.2,714.7C1072.7,715.5 1068.1,716.4 1063.5,717.2C1058.9,718.0 1054.3,718.8 1049.7,719.5C1045.1,720.3 1040.5,721.1 1035.9,721.8C1031.3,722.5 1026.7,723.3 1022.1,724.0C1017.5,724.7 1012.9,725.4 1008.3,726.0C1003.7,726.7 999.0,727.4 994.4,728.1C989.8,728.7 985.2,729.4 980.6,730.0C976.0,730.6 971.4,731.3 966.7,731.9C962.1,732.5 957.5,733.2 952.9,733.8C948.3,734.4 943.6,735.0 939.0,735.6C934.4,736.2 929.8,736.8 925.2,737.4C920.5,738.1 915.9,738.7 911.3,739.3C906.7,739.9 902.1,740.5 897.4,741.1C892.8,741.7 888.2,742.3 883.6,743.0C879.0,743.6 874.3,744.2 869.7,744.9"/><polygon class="a" points="869.2,740.2 856.5,746.5 870.3,749.5"/>
<path class="e" d="M1018.8,292.5C1014.1,293.4 1009.6,294.3 1004.9,295.2C1000.3,296.0 995.7,296.8 991.1,297.7C986.5,298.5 981.9,299.3 977.3,300.1C972.7,300.9 968.0,301.7 963.4,302.5C958.8,303.2 954.2,304.0 949.5,304.7C944.9,305.5 940.3,306.2 935.7,306.9C931.0,307.7 926.4,308.4 921.8,309.1C917.1,309.8 912.5,310.5 907.9,311.2C903.2,311.8 898.6,312.5 893.9,313.2C889.3,313.8 884.7,314.5 880.0,315.1C875.4,315.8 870.7,316.4 866.1,317.1C861.5,317.7 856.8,318.3 852.2,318.9C847.5,319.5 842.9,320.1 838.2,320.7C833.6,321.3 828.9,321.9 824.3,322.5C819.6,323.1 815.0,323.7 810.3,324.3C805.7,324.8 801.0,325.4 796.4,326.0C791.7,326.5 787.1,327.1 782.4,327.7C777.8,328.2 773.1,328.8 768.5,329.3C763.8,329.9 759.2,330.4 754.5,331.0C749.9,331.5 745.2,332.0 740.5,332.6C735.9,333.1 731.2,333.6 726.6,334.2C721.9,334.7 717.3,335.2 712.6,335.8C708.0,336.3 703.3,336.8 698.6,337.4C694.0,337.9 689.3,338.4 684.7,338.9C680.0,339.5 675.4,340.0 670.7,340.5C666.1,341.1 661.4,341.6 656.7,342.1C652.1,342.7 647.4,343.2 642.8,343.7C638.1,344.3 633.5,344.8 628.8,345.3C624.2,345.9 619.5,346.4 614.8,347.0C610.2,347.5 605.5,348.1 600.9,348.6C596.2,349.2 591.6,349.7 586.9,350.3C582.3,350.9 577.6,351.4 573.0,352.0C568.3,352.6 563.7,353.2 559.0,353.7C554.4,354.3 549.7,354.9 545.1,355.5C540.4,356.1 535.8,356.7 531.1,357.3C526.5,358.0 521.9,358.6 517.2,359.2"/><polygon class="a" points="516.6,354.6 504.0,361.0 517.8,363.8"/>
<path class="e" d="M1019.0,295.0C1014.6,296.6 1010.2,298.3 1005.8,299.8C1001.3,301.3 996.8,302.7 992.3,304.0C987.9,305.4 983.3,306.7 978.8,308.0C974.3,309.2 969.8,310.5 965.3,311.7C960.7,312.9 956.2,314.2 951.7,315.4C947.1,316.6 942.6,317.8 938.1,319.1C933.6,320.3 929.0,321.6 924.5,322.9C920.0,324.2 915.5,325.6 911.0,327.0C906.6,328.4 902.1,329.8 897.7,331.4C893.2,332.9 888.8,334.5 884.4,336.2C880.1,337.9 875.7,339.7 871.4,341.6C867.2,343.5 862.9,345.5 858.7,347.7C854.6,349.8 850.4,352.1 846.4,354.5C842.4,356.9 838.5,359.5 834.6,362.2C830.8,364.9 827.1,367.7 823.4,370.7C819.8,373.7 816.3,376.8 812.8,380.0C809.4,383.1 806.0,386.4 802.7,389.7C799.3,393.0 796.0,396.4 792.8,399.7C789.5,403.1 786.3,406.5 783.0,409.9C779.7,413.2 776.5,416.6 773.2,419.9C769.8,423.3 766.4,426.5 763.1,429.8"/><polygon class="a" points="760.0,426.2 753.0,438.5 766.1,433.3"/>
<path class="e" d="M1107.5,294.5C1105.5,298.6 1103.6,302.8 1101.6,306.9C1099.6,311.0 1097.5,315.1 1095.3,319.2C1093.2,323.2 1091.1,327.3 1088.9,331.3C1086.8,335.4 1084.6,339.4 1082.3,343.4C1080.1,347.4 1077.9,351.4 1075.6,355.4C1073.3,359.4 1071.0,363.3 1068.6,367.3C1066.2,371.2 1063.8,375.1 1061.4,379.0C1058.9,382.9 1056.5,386.8 1053.9,390.6C1051.4,394.4 1048.8,398.2 1046.2,402.0C1043.6,405.7 1040.9,409.5 1038.2,413.2C1035.5,416.9 1032.8,420.6 1029.9,424.2C1027.1,427.8 1024.3,431.4 1021.3,434.9C1018.4,438.5 1015.5,442.0 1012.4,445.4C1009.4,448.8 1006.3,452.2 1003.2,455.6C1000.0,458.9 996.8,462.2 993.5,465.4C990.3,468.6 987.0,471.8 983.6,474.9C980.2,478.0 976.7,481.0 973.2,484.0C969.7,487.0 966.2,489.8 962.5,492.6C958.9,495.5 955.2,498.2 951.5,500.8C947.7,503.5 943.9,506.0 940.0,508.5C936.2,511.0 932.2,513.3 928.3,515.6C924.3,517.9 920.2,520.1 916.2,522.2C912.1,524.3 908.0,526.4 903.8,528.3C899.7,530.3 895.5,532.2 891.3,534.0C887.1,535.8 882.8,537.6 878.6,539.3C874.3,541.0 870.0,542.5 865.7,544.2"/><polygon class="a" points="864.0,539.8 853.3,549.0 867.4,548.5"/>
<path class="e" d="M1216.5,294.5C1220.7,296.5 1225.0,298.3 1229.0,300.5C1233.0,302.8 1237.0,305.3 1240.7,308.0C1244.5,310.6 1248.1,313.5 1251.6,316.6C1255.0,319.7 1258.3,323.0 1261.4,326.4C1264.5,329.8 1267.5,333.4 1270.2,337.1C1273.0,340.9 1275.6,344.7 1277.9,348.7C1280.3,352.7 1282.5,356.8 1284.5,360.9C1286.5,365.1 1288.3,369.4 1289.9,373.7C1291.5,378.0 1293.0,382.5 1294.1,386.9C1295.3,391.4 1296.3,396.0 1296.8,400.6C1297.4,405.1 1297.6,409.8 1297.4,414.4C1297.3,419.0 1296.7,423.7 1295.8,428.2C1294.8,432.7 1293.5,437.2 1291.9,441.5C1290.2,445.8 1288.2,450.0 1286.0,454.1C1283.7,458.1 1281.2,462.0 1278.5,465.8C1275.8,469.5 1272.9,473.1 1269.8,476.6C1266.8,480.1 1263.6,483.5 1260.3,486.7C1257.0,490.0 1253.6,493.2 1250.2,496.3C1246.8,499.4 1243.2,502.4 1239.7,505.3C1236.1,508.3 1232.5,511.2 1228.9,514.1C1225.3,517.0 1221.6,519.8 1218.0,522.7C1214.3,525.5 1210.6,528.2 1206.8,531.0C1203.1,533.7 1199.3,536.4 1195.5,539.0C1191.8,541.7 1187.9,544.3 1184.1,546.9C1180.3,549.5 1176.4,552.1 1172.6,554.6C1168.7,557.2 1164.8,559.7 1160.9,562.2C1157.0,564.7 1153.1,567.2 1149.1,569.6C1145.2,572.0 1141.2,574.4 1137.2,576.7C1133.2,579.0 1129.1,581.2 1125.0,583.4C1120.9,585.5 1116.8,587.6 1112.6,589.6C1108.4,591.5 1104.2,593.4 1099.9,595.1C1095.6,596.9 1091.2,598.5 1086.8,600.0C1082.5,601.5 1078.0,602.8 1073.6,604.1C1069.1,605.4 1064.6,606.5 1060.1,607.6C1055.7,608.8 1051.1,609.8 1046.6,610.8C1042.1,611.9 1037.6,612.8 1033.1,613.8C1028.5,614.8 1024.0,615.7 1019.5,616.7C1014.9,617.6 1010.4,618.5 1005.9,619.4C1001.3,620.3 996.8,621.2 992.2,622.1C987.7,622.9 983.1,623.8 978.6,624.6C974.0,625.4 969.4,626.3 964.9,627.1C960.3,627.9 955.8,628.7 951.2,629.4C946.6,630.2 942.1,631.0 937.5,631.7C932.9,632.5 928.4,633.3 923.8,634.0C919.2,634.7 914.7,635.5 910.1,636.2C905.5,636.9 900.9,637.6 896.4,638.4C891.8,639.1 887.2,639.8 882.6,640.5C878.1,641.2 873.5,641.9 868.9,642.6C864.3,643.3 859.8,644.0 855.2,644.7C850.6,645.4 846.0,646.1 841.5,646.8"/><polygon class="a" points="840.7,642.2 828.3,649.0 842.2,651.4"/>
<path class="e" d="M1218.5,288.0C1223.0,289.1 1227.5,290.1 1232.0,291.2C1236.6,292.3 1241.1,293.3 1245.6,294.4C1250.1,295.4 1254.6,296.5 1259.1,297.5C1263.7,298.6 1268.2,299.6 1272.7,300.7C1277.2,301.8 1281.7,302.8 1286.2,303.9C1290.7,305.0 1295.2,306.1 1299.7,307.3C1304.2,308.4 1308.7,309.6 1313.2,310.8C1317.6,312.0 1322.1,313.2 1326.6,314.5C1331.0,315.8 1335.5,317.1 1339.9,318.5C1344.3,319.8 1348.8,321.2 1353.2,322.7C1357.6,324.2 1362.0,325.7 1366.3,327.3C1370.6,328.9 1375.0,330.6 1379.2,332.5C1383.5,334.3 1387.7,336.3 1391.8,338.4C1395.9,340.5 1400.0,342.8 1403.9,345.2C1407.9,347.6 1411.8,350.1 1415.6,352.8C1419.4,355.4 1423.2,358.0 1426.9,360.9C1430.6,363.7 1434.2,366.6 1437.6,369.8C1441.0,372.9 1444.3,376.2 1447.2,379.8C1450.2,383.3 1452.9,387.1 1455.4,391.1C1457.8,395.0 1459.9,399.2 1461.8,403.4C1463.6,407.6 1465.2,412.0 1466.4,416.5C1467.7,421.0 1468.6,425.5 1469.2,430.1C1469.9,434.7 1470.3,439.3 1470.6,444.0C1470.8,448.6 1470.8,453.2 1470.8,457.9C1470.8,462.5 1470.8,467.1 1470.8,471.8C1470.8,476.4 1470.8,481.1 1470.8,485.7C1470.8,490.3 1470.8,495.0 1470.8,499.6C1470.8,504.2 1470.8,508.9 1470.8,513.5C1470.8,518.1 1470.8,522.8 1470.8,527.4C1470.8,532.1 1470.8,536.7 1470.8,541.3C1470.8,546.0 1471.0,550.6 1470.8,555.2C1470.7,559.9 1470.4,564.5 1469.9,569.1C1469.4,573.7 1468.9,578.4 1467.9,582.9C1466.9,587.4 1465.8,592.0 1464.0,596.2C1462.3,600.5 1460.2,604.7 1457.6,608.5C1454.9,612.3 1451.7,615.7 1448.3,618.9C1445.0,622.1 1441.2,624.8 1437.4,627.5C1433.6,630.1 1429.6,632.5 1425.6,634.8C1421.5,637.0 1417.4,639.2 1413.2,641.2C1409.1,643.3 1404.9,645.3 1400.7,647.2C1396.4,649.1 1392.2,650.9 1387.9,652.7C1383.6,654.5 1379.3,656.2 1375.0,657.9C1370.7,659.6 1366.4,661.3 1362.0,662.9C1357.7,664.5 1353.3,666.1 1348.9,667.7C1344.6,669.2 1340.2,670.7 1335.8,672.2C1331.4,673.7 1327.0,675.1 1322.6,676.5C1318.2,677.9 1313.7,679.3 1309.3,680.6C1304.8,682.0 1300.4,683.3 1295.9,684.5C1291.5,685.8 1287.0,687.0 1282.5,688.3C1278.0,689.5 1273.6,690.6 1269.1,691.8C1264.6,692.9 1260.1,694.0 1255.5,695.1C1251.0,696.2 1246.5,697.2 1242.0,698.2C1237.5,699.3 1232.9,700.3 1228.4,701.2C1223.9,702.2 1219.3,703.1 1214.8,704.1C1210.2,705.0 1205.7,705.9 1201.1,706.7C1196.6,707.6 1192.0,708.4 1187.5,709.3C1182.9,710.1 1178.3,710.9 1173.7,711.6C1169.2,712.4 1164.6,713.2 1160.0,713.9C1155.4,714.6 1150.9,715.3 1146.3,716.0C1141.7,716.7 1137.1,717.4 1132.5,718.1C1127.9,718.7 1123.3,719.4 1118.7,720.0C1114.1,720.6 1109.5,721.2 1104.9,721.8C1100.3,722.4 1095.7,723.0 1091.1,723.6C1086.5,724.1 1081.9,724.7 1077.3,725.2C1072.7,725.8 1068.1,726.3 1063.5,726.8C1058.9,727.3 1054.3,727.9 1049.7,728.4C1045.1,728.9 1040.5,729.3 1035.8,729.8C1031.2,730.3 1026.6,730.8 1022.0,731.3C1017.4,731.7 1012.8,732.2 1008.2,732.6C1003.6,733.1 998.9,733.6 994.3,734.0C989.7,734.5 985.1,734.9 980.5,735.3C975.9,735.8 971.2,736.2 966.6,736.7C962.0,737.1 957.4,737.5 952.8,738.0C948.2,738.4 943.5,738.8 938.9,739.3C934.3,739.7 929.7,740.2 925.1,740.6C920.5,741.1 915.8,741.5 911.2,742.0C906.6,742.4 902.0,742.9 897.4,743.3C892.8,743.8 888.2,744.2 883.5,744.7C878.9,745.2 874.3,745.7 869.7,746.2"/><polygon class="a" points="869.1,741.5 856.5,748.0 870.3,750.8"/>
<path class="e" d="M886.0,390.5L780.1,439.9"/><polygon class="a" points="778.1,435.6 768.0,445.5 782.1,444.1"/>
<path class="e" d="M923.5,390.5L839.4,523.2"/><polygon class="a" points="835.5,520.7 832.3,534.5 843.4,525.7"/>
<path class="e" d="M935.0,390.5C934.1,395.0 933.3,399.5 932.4,404.0C931.5,408.5 930.6,413.0 929.6,417.5C928.6,422.0 927.6,426.5 926.6,431.0C925.6,435.4 924.6,439.9 923.5,444.4C922.4,448.8 921.3,453.3 920.2,457.7C919.0,462.2 917.8,466.6 916.5,471.0C915.2,475.4 913.9,479.8 912.5,484.2C911.1,488.6 909.6,492.9 908.0,497.3C906.4,501.6 904.8,505.9 903.0,510.1C901.3,514.3 899.4,518.6 897.5,522.7C895.5,526.9 893.4,531.0 891.3,535.0C889.1,539.1 886.8,543.1 884.5,547.0C882.2,551.0 879.7,554.9 877.2,558.7C874.7,562.6 872.2,566.4 869.6,570.2C867.0,574.0 864.3,577.7 861.6,581.5C858.9,585.2 856.2,588.9 853.4,592.5C850.6,596.1 847.8,599.8 844.8,603.3C841.8,606.7 838.7,610.2 835.5,613.5C832.3,616.7 828.8,619.7 825.4,622.8"/><polygon class="a" points="822.7,619.0 814.5,630.5 828.1,626.6"/>
<path class="e" d="M941.0,390.5C941.4,395.1 941.9,399.6 942.3,404.2C942.7,408.8 943.0,413.4 943.3,418.0C943.5,422.6 943.6,427.2 943.5,431.8C943.5,436.5 943.4,441.1 943.1,445.7C942.9,450.3 942.5,454.9 942.1,459.5C941.6,464.1 941.1,468.7 940.4,473.2C939.8,477.8 939.1,482.4 938.2,486.9C937.4,491.4 936.5,496.0 935.5,500.5C934.5,505.0 933.4,509.5 932.3,513.9C931.1,518.4 929.9,522.9 928.6,527.3C927.3,531.7 926.0,536.1 924.6,540.5C923.2,544.9 921.7,549.3 920.2,553.6C918.6,558.0 917.1,562.3 915.4,566.7C913.8,571.0 912.2,575.3 910.5,579.6C908.7,583.9 907.0,588.1 905.2,592.4C903.5,596.7 901.7,600.9 899.8,605.1C898.0,609.4 896.2,613.6 894.3,617.8C892.4,622.1 890.6,626.3 888.7,630.5C886.8,634.7 884.8,638.9 882.9,643.1C881.0,647.3 879.0,651.4 877.0,655.6C875.0,659.7 872.9,663.9 870.8,668.0C868.7,672.1 866.6,676.2 864.4,680.2C862.2,684.3 859.9,688.3 857.6,692.3C855.3,696.3 852.9,700.3 850.5,704.2C848.0,708.1 845.4,711.9 842.9,715.8"/><polygon class="a" points="839.2,713.0 835.0,726.5 846.7,718.5"/>
<path class="e" d="M1170.5,375.0C1165.9,376.0 1161.2,376.9 1156.6,377.9C1152.0,378.9 1147.4,379.9 1142.7,380.8C1138.1,381.8 1133.5,382.8 1128.9,383.8C1124.2,384.8 1119.6,385.7 1115.0,386.7C1110.4,387.7 1105.7,388.7 1101.1,389.6C1096.5,390.6 1091.9,391.6 1087.2,392.6C1082.6,393.6 1078.0,394.5 1073.3,395.5C1068.7,396.5 1064.1,397.5 1059.5,398.4C1054.8,399.4 1050.2,400.4 1045.6,401.4C1041.0,402.3 1036.3,403.3 1031.7,404.3C1027.1,405.2 1022.4,406.2 1017.8,407.2C1013.2,408.1 1008.6,409.1 1003.9,410.1C999.3,411.0 994.7,412.0 990.0,412.9C985.4,413.9 980.8,414.8 976.2,415.8C971.5,416.7 966.9,417.7 962.3,418.6C957.6,419.6 953.0,420.5 948.4,421.5C943.7,422.4 939.1,423.3 934.4,424.3C929.8,425.2 925.2,426.1 920.5,427.0C915.9,428.0 911.3,428.9 906.6,429.8C902.0,430.7 897.3,431.6 892.7,432.5C888.1,433.4 883.4,434.3 878.8,435.2C874.1,436.1 869.5,437.0 864.9,437.9C860.2,438.8 855.6,439.7 850.9,440.6C846.3,441.4 841.6,442.3 837.0,443.2C832.3,444.0 827.7,444.9 823.0,445.7C818.4,446.6 813.7,447.4 809.1,448.3C804.4,449.1 799.8,449.9 795.1,450.8C790.4,451.6 785.8,452.4 781.1,453.2"/><polygon class="a" points="780.3,448.6 768.0,455.5 781.9,457.8"/>
<path class="e" d="M1185.5,390.5C1181.8,393.1 1178.1,395.6 1174.4,398.3C1170.7,401.0 1167.0,403.9 1163.4,406.6C1159.7,409.3 1156.0,412.0 1152.2,414.7C1148.5,417.3 1144.7,420.0 1141.0,422.6C1137.2,425.2 1133.4,427.8 1129.6,430.3C1125.8,432.9 1121.9,435.4 1118.1,437.9C1114.2,440.4 1110.3,442.9 1106.4,445.3C1102.5,447.7 1098.6,450.1 1094.7,452.5C1090.8,454.8 1086.8,457.2 1082.8,459.5C1078.9,461.8 1074.9,464.0 1070.8,466.3C1066.8,468.5 1062.8,470.7 1058.8,472.8C1054.7,475.0 1050.6,477.1 1046.5,479.2C1042.5,481.3 1038.3,483.3 1034.2,485.4C1030.1,487.4 1026.0,489.3 1021.8,491.3C1017.6,493.2 1013.5,495.1 1009.3,497.0C1005.1,498.9 1000.9,500.7 996.7,502.5C992.4,504.3 988.2,506.1 984.0,507.8C979.7,509.6 975.4,511.3 971.2,512.9C966.9,514.6 962.6,516.2 958.3,517.8C954.0,519.4 949.7,520.9 945.3,522.5C941.0,524.0 936.6,525.4 932.3,526.9C927.9,528.3 923.6,529.7 919.2,531.1C914.8,532.5 910.4,533.8 906.0,535.1C901.6,536.4 897.2,537.7 892.8,538.9C888.4,540.2 883.9,541.4 879.5,542.5C875.0,543.7 870.6,544.8 866.1,545.9"/><polygon class="a" points="864.9,541.4 853.3,549.5 867.4,550.4"/>
<path class="e" d="M1209.5,390.5C1207.8,394.8 1206.1,399.0 1204.3,403.3C1202.6,407.6 1200.9,411.9 1199.2,416.1C1197.4,420.4 1195.6,424.6 1193.7,428.9C1191.9,433.1 1190.0,437.3 1188.1,441.5C1186.2,445.7 1184.2,449.8 1182.2,454.0C1180.2,458.1 1178.2,462.3 1176.1,466.4C1174.0,470.5 1171.9,474.6 1169.7,478.6C1167.5,482.7 1165.3,486.7 1163.0,490.8C1160.8,494.8 1158.4,498.8 1156.1,502.7C1153.7,506.7 1151.3,510.6 1148.8,514.5C1146.3,518.3 1143.7,522.2 1141.1,525.9C1138.4,529.7 1135.7,533.4 1132.8,537.0C1129.9,540.6 1127.0,544.1 1123.9,547.6C1120.8,551.0 1117.6,554.3 1114.3,557.5C1110.9,560.7 1107.5,563.8 1104.0,566.7C1100.4,569.7 1096.8,572.5 1093.0,575.2C1089.3,577.8 1085.4,580.4 1081.4,582.7C1077.5,585.1 1073.4,587.3 1069.3,589.3C1065.2,591.3 1060.9,593.2 1056.7,595.0C1052.4,596.8 1048.1,598.4 1043.8,600.0C1039.5,601.6 1035.1,603.1 1030.7,604.5C1026.3,605.9 1021.9,607.3 1017.5,608.6C1013.1,610.0 1008.7,611.2 1004.3,612.5C999.8,613.7 995.4,614.9 990.9,616.1C986.4,617.2 982.0,618.4 977.5,619.4C973.0,620.5 968.5,621.6 964.0,622.6C959.5,623.6 955.0,624.6 950.5,625.5C946.0,626.5 941.5,627.4 937.0,628.3C932.5,629.2 927.9,630.1 923.4,630.9C918.9,631.7 914.3,632.5 909.8,633.3C905.2,634.1 900.7,634.9 896.2,635.7C891.6,636.4 887.1,637.2 882.5,637.9C878.0,638.6 873.4,639.3 868.8,640.0C864.3,640.7 859.7,641.4 855.2,642.1C850.6,642.8 846.1,643.5 841.5,644.1"/><polygon class="a" points="840.9,639.5 828.3,646.0 842.1,648.8"/>
<path class="e" d="M1215.8,390.5C1215.3,395.1 1214.9,399.8 1214.3,404.4C1213.8,409.1 1213.2,413.7 1212.5,418.3C1211.8,422.9 1211.0,427.5 1210.2,432.1C1209.4,436.7 1208.4,441.3 1207.4,445.8C1206.4,450.4 1205.3,454.9 1204.2,459.4C1203.0,464.0 1201.7,468.4 1200.3,472.9C1198.9,477.3 1197.4,481.8 1195.8,486.1C1194.2,490.5 1192.5,494.9 1190.6,499.2C1188.8,503.4 1186.8,507.7 1184.7,511.8C1182.6,516.0 1180.4,520.1 1178.0,524.2C1175.7,528.2 1173.2,532.1 1170.6,536.0C1168.0,539.9 1165.2,543.6 1162.4,547.3C1159.5,551.0 1156.5,554.6 1153.4,558.1C1150.3,561.6 1147.1,565.0 1143.8,568.3C1140.5,571.6 1137.2,574.8 1133.7,578.0C1130.3,581.1 1126.8,584.2 1123.2,587.2C1119.7,590.2 1116.0,593.2 1112.4,596.1C1108.7,599.0 1105.0,601.8 1101.3,604.6C1097.5,607.4 1093.8,610.2 1090.0,612.9C1086.2,615.6 1082.4,618.3 1078.5,620.9C1074.7,623.6 1070.9,626.3 1067.0,628.9C1063.1,631.5 1059.3,634.1 1055.4,636.7C1051.5,639.2 1047.6,641.8 1043.6,644.3C1039.7,646.8 1035.8,649.3 1031.8,651.8C1027.9,654.3 1023.9,656.7 1019.9,659.1C1015.9,661.6 1011.9,663.9 1007.9,666.3C1003.8,668.7 999.8,671.0 995.7,673.3C991.7,675.6 987.6,677.9 983.5,680.1C979.4,682.4 975.3,684.6 971.2,686.7C967.1,688.9 962.9,691.1 958.8,693.2C954.6,695.3 950.4,697.4 946.2,699.4C942.0,701.5 937.8,703.5 933.6,705.5C929.4,707.4 925.1,709.4 920.9,711.3C916.6,713.2 912.3,715.1 908.0,716.9C903.8,718.7 899.4,720.5 895.1,722.3C890.8,724.1 886.5,725.8 882.1,727.5C877.8,729.2 873.4,730.8 869.0,732.4"/><polygon class="a" points="867.4,728.0 856.5,737.0 870.6,736.8"/>
<path class="e" d="M746.0,486.5C748.5,489.8 751.0,493.2 753.6,496.5C756.2,499.8 758.9,503.1 761.5,506.3C764.2,509.5 767.0,512.7 769.8,515.8C772.6,518.9 775.5,521.9 778.3,525.0"/><polygon class="a" points="775.0,528.3 787.7,534.5 781.7,521.7"/>
<path class="e" d="M731.3,486.5C731.9,490.9 732.6,495.4 733.2,499.8C733.9,504.2 734.7,508.6 735.4,513.0C736.2,517.4 737.0,521.8 737.9,526.2C738.7,530.6 739.6,535.0 740.5,539.4C741.4,543.8 742.4,548.1 743.3,552.5C744.3,556.9 745.3,561.2 746.3,565.6C747.4,569.9 748.4,574.3 749.5,578.6C750.6,583.0 751.7,587.3 752.8,591.7C753.9,596.0 755.0,600.3 756.1,604.6C757.3,609.0 758.4,613.3 759.6,617.6"/><polygon class="a" points="755.0,618.8 763.0,630.5 764.1,616.4"/>
<path class="e" d="M721.0,486.5C719.3,490.9 717.6,495.3 716.0,499.7C714.4,504.1 713.0,508.6 711.5,513.1C710.0,517.5 708.6,522.0 707.2,526.5C705.9,531.0 704.6,535.6 703.3,540.1C702.1,544.6 700.9,549.2 699.9,553.8C698.8,558.4 697.9,563.0 697.0,567.6C696.2,572.3 695.4,576.9 694.8,581.6C694.2,586.2 693.7,590.9 693.4,595.6C693.1,600.3 693.0,605.0 693.0,609.7C693.0,614.5 693.2,619.2 693.6,623.9C694.0,628.5 694.6,633.2 695.5,637.9C696.3,642.5 697.3,647.1 698.6,651.6C699.9,656.1 701.4,660.6 703.1,665.0C704.9,669.4 706.8,673.7 709.1,677.8C711.3,681.9 713.8,686.0 716.6,689.7C719.3,693.5 722.4,697.2 725.6,700.6C728.9,704.0 732.5,707.1 736.2,710.0C739.9,712.9 743.8,715.4 747.8,717.9C751.8,720.4 756.0,722.7 760.1,724.9C764.3,727.1 768.5,729.2 772.7,731.3"/><polygon class="a" points="770.5,735.4 784.5,737.5 774.9,727.2"/>
<path class="e" d="M803.7,534.5L770.3,496.5"/><polygon class="a" points="773.8,493.4 761.5,486.5 766.8,499.6"/>
<path class="e" d="M798.6,582.5L782.8,618.3"/><polygon class="a" points="778.5,616.4 777.4,630.5 787.1,620.2"/>
<path class="e" d="M827.0,582.5C828.5,586.7 830.1,590.9 831.5,595.1C832.9,599.4 834.2,603.6 835.3,608.0C836.5,612.3 837.4,616.7 838.3,621.0C839.1,625.4 839.8,629.9 840.3,634.3C840.8,638.7 841.1,643.2 841.3,647.6C841.5,652.1 841.6,656.6 841.4,661.0C841.3,665.5 841.0,670.0 840.5,674.4C840.0,678.9 839.4,683.3 838.6,687.7C837.8,692.1 836.9,696.5 835.9,700.8C834.8,705.1 833.5,709.4 832.3,713.7"/><polygon class="a" points="827.9,712.4 828.5,726.5 836.8,715.1"/>
<path class="e" d="M775.5,630.5C774.9,626.1 774.4,621.6 773.7,617.2C773.1,612.8 772.3,608.3 771.5,603.9C770.7,599.5 769.9,595.1 769.0,590.7C768.1,586.4 767.2,582.0 766.2,577.6C765.3,573.2 764.2,568.9 763.2,564.5C762.2,560.2 761.1,555.8 760.0,551.5C759.0,547.1 757.9,542.8 756.8,538.5C755.7,534.1 754.5,529.8 753.4,525.4C752.3,521.1 751.2,516.8 750.1,512.4C749.0,508.1 747.9,503.7 746.8,499.4"/><polygon class="a" points="751.3,498.2 743.5,486.5 742.3,500.6"/>
<path class="e" d="M793.5,630.5L809.2,594.7"/><polygon class="a" points="813.5,596.6 814.6,582.5 805.0,592.8"/>
<path class="e" d="M786.3,678.5L803.0,714.4"/><polygon class="a" points="798.7,716.4 808.6,726.5 807.2,712.4"/>
<text x="398.5" y="171.8">15</text>
<text x="636.0" y="161.0">2</text>
<text x="242.5" y="233.0">1</text>
<text x="277.0" y="242.0">1</text>
<text x="292.0" y="266.0">1</text>
<text x="384.0" y="331.5">11</text>
<text x="424.0" y="326.5">3</text>
<text x="454.5" y="327.0">1</text>
<text x="480.5" y="333.5">6</text>
<text x="524.0" y="363.0">7</text>
<text x="522.5" y="371.0">2</text>
<text x="688.0" y="423.5">9</text>
<text x="705.4" y="422.2">26</text>
<text x="743.2" y="423.2">8</text>
<text x="751.0" y="425.2">47</text>
<text x="771.7" y="434.0">7</text>
<text x="788.7" y="449.0">5</text>
<text x="788.2" y="464.0">9</text>
<text x="681.2" y="440.4">52</text>
<text x="677.5" y="454.0">7</text>
<text x="869.5" y="334.0">2</text>
<text x="1155.8" y="342.0">9</text>
<text x="1242.7" y="332.0">1</text>
<text x="905.0" y="229.8">1</text>
<text x="1072.5" y="232.8">2</text>
<text x="741.0" y="509.6">17</text>
<text x="769.0" y="508.4">17</text>
<text x="782.0" y="518.6">12</text>
<text x="768.5" y="527.0">259</text>
<text x="816.0" y="517.6">42</text>
<text x="850.0" y="527.6">15</text>
<text x="763.3" y="549.4">48</text>
<text x="763.8" y="549.0">91</text>
<text x="870.0" y="541.0">18</text>
<text x="881.5" y="541.0">9</text>
<text x="873.0" y="554.5">2</text>
<text x="873.0" y="558.5">4</text>
<text x="800.5" y="599.6">39</text>
<text x="791.8" y="618.9">2</text>
<text x="757.0" y="613.5">9</text>
<text x="766.0" y="613.5">3</text>
<text x="705.6" y="635.3">10</text>
<text x="703.7" y="642.6">37</text>
<text x="847.3" y="633.0">48</text>
<text x="848.0" y="654.5">2</text>
<text x="848.0" y="657.0">4</text>
<text x="847.3" y="662.5">1</text>
<text x="808.6" y="708.6">101</text>
<text x="842.5" y="714.2">123</text>
<text x="853.0" y="718.9">49</text>
<text x="876.3" y="741.7">50</text>
<text x="873.0" y="758.0">55</text>
<text x="878.0" y="757.0">74</text>
<text x="874.0" y="760.5">38</text>
<text x="769.8" y="724.4">26</text>
<text x="760.0" y="729.7">11</text>
<text x="776.9" y="729.7">28</text>
<text x="762.0" y="741.7">65</text>
<text x="761.0" y="745.2">33</text>
<text x="765.0" y="745.0">37</text>
</svg></body></html>
